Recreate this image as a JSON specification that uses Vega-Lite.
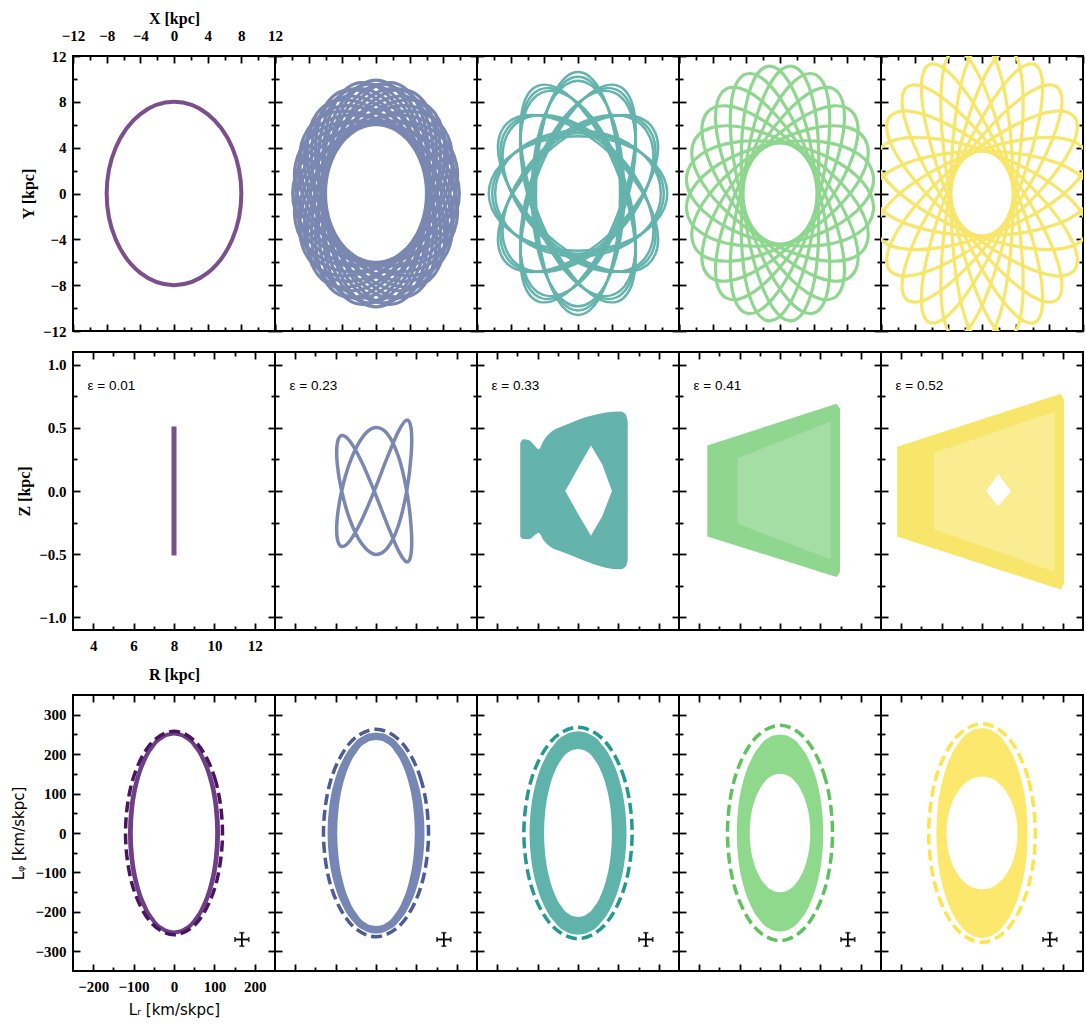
{
"$schema": "https://vega.github.io/schema/vega-lite/v6.json",
"background": "white",
"padding": {"left": 10, "top": 9, "right": 2, "bottom": 4},
"spacing": 10,
"datasets": {
"ax": [{"v": 0}],
"err": [{"x": 168, "y": -270, "xl": 151, "xh": 185, "yl": -287, "yh": -253}],
"eps": [{"p":1,"t":"ε = 0.01"},{"p":2,"t":"ε = 0.23"},{"p":3,"t":"ε = 0.33"},{"p":4,"t":"ε = 0.41"},{"p":5,"t":"ε = 0.52"}],
"xy": [
{"p":1,"k":1,"x":8,"y":0},{"p":1,"k":1,"x":6.93,"y":4},{"p":1,"k":1,"x":4,"y":6.93},{"p":1,"k":1,"x":0,"y":8},{"p":1,"k":1,"x":-4,"y":6.93},{"p":1,"k":1,"x":-6.93,"y":4},{"p":1,"k":1,"x":-8,"y":0},{"p":1,"k":1,"x":-6.93,"y":-4},{"p":1,"k":1,"x":-4,"y":-6.93},{"p":1,"k":1,"x":0,"y":-8},{"p":1,"k":1,"x":4,"y":-6.93},{"p":1,"k":1,"x":6.93,"y":-4},

{"p":2,"k":1,"x":9.9,"y":0},{"p":2,"k":1,"x":8.57,"y":3},{"p":2,"k":1,"x":4.95,"y":5.2},{"p":2,"k":1,"x":0,"y":6},{"p":2,"k":1,"x":-4.95,"y":5.2},{"p":2,"k":1,"x":-8.57,"y":3},{"p":2,"k":1,"x":-9.9,"y":0},{"p":2,"k":1,"x":-8.57,"y":-3},{"p":2,"k":1,"x":-4.95,"y":-5.2},{"p":2,"k":1,"x":0,"y":-6},{"p":2,"k":1,"x":4.95,"y":-5.2},{"p":2,"k":1,"x":8.57,"y":-3},
{"p":2,"k":2,"x":9.56,"y":2.56},{"p":2,"k":2,"x":7.5,"y":5.12},{"p":2,"k":2,"x":3.43,"y":6.3},{"p":2,"k":2,"x":-1.55,"y":5.8},{"p":2,"k":2,"x":-6.13,"y":3.74},{"p":2,"k":2,"x":-9.06,"y":0.68},{"p":2,"k":2,"x":-9.56,"y":-2.56},{"p":2,"k":2,"x":-7.5,"y":-5.12},{"p":2,"k":2,"x":-3.43,"y":-6.3},{"p":2,"k":2,"x":1.55,"y":-5.8},{"p":2,"k":2,"x":6.13,"y":-3.74},{"p":2,"k":2,"x":9.06,"y":-0.68},
{"p":2,"k":3,"x":8.57,"y":4.95},{"p":2,"k":3,"x":5.92,"y":6.89},{"p":2,"k":3,"x":1.69,"y":6.98},{"p":2,"k":3,"x":-3,"y":5.2},{"p":2,"k":3,"x":-6.89,"y":2.02},{"p":2,"k":3,"x":-8.92,"y":-1.69},{"p":2,"k":3,"x":-8.57,"y":-4.95},{"p":2,"k":3,"x":-5.92,"y":-6.89},{"p":2,"k":3,"x":-1.69,"y":-6.98},{"p":2,"k":3,"x":3,"y":-5.2},{"p":2,"k":3,"x":6.89,"y":-2.02},{"p":2,"k":3,"x":8.92,"y":1.69},
{"p":2,"k":4,"x":7,"y":7},{"p":2,"k":4,"x":3.94,"y":8.18},{"p":2,"k":4,"x":-0.18,"y":7.18},{"p":2,"k":4,"x":-4.24,"y":4.24},{"p":2,"k":4,"x":-7.18,"y":0.18},{"p":2,"k":4,"x":-8.18,"y":-3.94},{"p":2,"k":4,"x":-7,"y":-7},{"p":2,"k":4,"x":-3.94,"y":-8.18},{"p":2,"k":4,"x":0.18,"y":-7.18},{"p":2,"k":4,"x":4.24,"y":-4.24},{"p":2,"k":4,"x":7.18,"y":-0.18},{"p":2,"k":4,"x":8.18,"y":3.94},
{"p":2,"k":5,"x":4.95,"y":8.57},{"p":2,"k":5,"x":6.89,"y":5.92},{"p":2,"k":5,"x":6.98,"y":1.69},{"p":2,"k":5,"x":5.2,"y":-3},{"p":2,"k":5,"x":2.02,"y":-6.89},{"p":2,"k":5,"x":-1.69,"y":-8.92},{"p":2,"k":5,"x":-4.95,"y":-8.57},{"p":2,"k":5,"x":-6.89,"y":-5.92},{"p":2,"k":5,"x":-6.98,"y":-1.69},{"p":2,"k":5,"x":-5.2,"y":3},{"p":2,"k":5,"x":-2.02,"y":6.89},{"p":2,"k":5,"x":1.69,"y":8.92},
{"p":2,"k":6,"x":2.56,"y":9.56},{"p":2,"k":6,"x":5.12,"y":7.5},{"p":2,"k":6,"x":6.3,"y":3.43},{"p":2,"k":6,"x":5.8,"y":-1.55},{"p":2,"k":6,"x":3.74,"y":-6.13},{"p":2,"k":6,"x":0.68,"y":-9.06},{"p":2,"k":6,"x":-2.56,"y":-9.56},{"p":2,"k":6,"x":-5.12,"y":-7.5},{"p":2,"k":6,"x":-6.3,"y":-3.43},{"p":2,"k":6,"x":-5.8,"y":1.55},{"p":2,"k":6,"x":-3.74,"y":6.13},{"p":2,"k":6,"x":-0.68,"y":9.06},
{"p":2,"k":7,"x":0,"y":9.9},{"p":2,"k":7,"x":3,"y":8.57},{"p":2,"k":7,"x":5.2,"y":4.95},{"p":2,"k":7,"x":6,"y":0},{"p":2,"k":7,"x":5.2,"y":-4.95},{"p":2,"k":7,"x":3,"y":-8.57},{"p":2,"k":7,"x":0,"y":-9.9},{"p":2,"k":7,"x":-3,"y":-8.57},{"p":2,"k":7,"x":-5.2,"y":-4.95},{"p":2,"k":7,"x":-6,"y":0},{"p":2,"k":7,"x":-5.2,"y":4.95},{"p":2,"k":7,"x":-3,"y":8.57},
{"p":2,"k":8,"x":2.56,"y":-9.56},{"p":2,"k":8,"x":5.12,"y":-7.5},{"p":2,"k":8,"x":6.3,"y":-3.43},{"p":2,"k":8,"x":5.8,"y":1.55},{"p":2,"k":8,"x":3.74,"y":6.13},{"p":2,"k":8,"x":0.68,"y":9.06},{"p":2,"k":8,"x":-2.56,"y":9.56},{"p":2,"k":8,"x":-5.12,"y":7.5},{"p":2,"k":8,"x":-6.3,"y":3.43},{"p":2,"k":8,"x":-5.8,"y":-1.55},{"p":2,"k":8,"x":-3.74,"y":-6.13},{"p":2,"k":8,"x":-0.68,"y":-9.06},
{"p":2,"k":9,"x":4.95,"y":-8.57},{"p":2,"k":9,"x":6.89,"y":-5.92},{"p":2,"k":9,"x":6.98,"y":-1.69},{"p":2,"k":9,"x":5.2,"y":3},{"p":2,"k":9,"x":2.02,"y":6.89},{"p":2,"k":9,"x":-1.69,"y":8.92},{"p":2,"k":9,"x":-4.95,"y":8.57},{"p":2,"k":9,"x":-6.89,"y":5.92},{"p":2,"k":9,"x":-6.98,"y":1.69},{"p":2,"k":9,"x":-5.2,"y":-3},{"p":2,"k":9,"x":-2.02,"y":-6.89},{"p":2,"k":9,"x":1.69,"y":-8.92},
{"p":2,"k":10,"x":7,"y":-7},{"p":2,"k":10,"x":3.94,"y":-8.18},{"p":2,"k":10,"x":-0.18,"y":-7.18},{"p":2,"k":10,"x":-4.24,"y":-4.24},{"p":2,"k":10,"x":-7.18,"y":-0.18},{"p":2,"k":10,"x":-8.18,"y":3.94},{"p":2,"k":10,"x":-7,"y":7},{"p":2,"k":10,"x":-3.94,"y":8.18},{"p":2,"k":10,"x":0.18,"y":7.18},{"p":2,"k":10,"x":4.24,"y":4.24},{"p":2,"k":10,"x":7.18,"y":0.18},{"p":2,"k":10,"x":8.18,"y":-3.94},
{"p":2,"k":11,"x":8.57,"y":-4.95},{"p":2,"k":11,"x":5.92,"y":-6.89},{"p":2,"k":11,"x":1.69,"y":-6.98},{"p":2,"k":11,"x":-3,"y":-5.2},{"p":2,"k":11,"x":-6.89,"y":-2.02},{"p":2,"k":11,"x":-8.92,"y":1.69},{"p":2,"k":11,"x":-8.57,"y":4.95},{"p":2,"k":11,"x":-5.92,"y":6.89},{"p":2,"k":11,"x":-1.69,"y":6.98},{"p":2,"k":11,"x":3,"y":5.2},{"p":2,"k":11,"x":6.89,"y":2.02},{"p":2,"k":11,"x":8.92,"y":-1.69},
{"p":2,"k":12,"x":9.56,"y":-2.56},{"p":2,"k":12,"x":7.5,"y":-5.12},{"p":2,"k":12,"x":3.43,"y":-6.3},{"p":2,"k":12,"x":-1.55,"y":-5.8},{"p":2,"k":12,"x":-6.13,"y":-3.74},{"p":2,"k":12,"x":-9.06,"y":-0.68},{"p":2,"k":12,"x":-9.56,"y":2.56},{"p":2,"k":12,"x":-7.5,"y":5.12},{"p":2,"k":12,"x":-3.43,"y":6.3},{"p":2,"k":12,"x":1.55,"y":5.8},{"p":2,"k":12,"x":6.13,"y":3.74},{"p":2,"k":12,"x":9.06,"y":0.68},
{"p":2,"k":13,"x":9.51,"y":1.26},{"p":2,"k":13,"x":7.83,"y":4.19},{"p":2,"k":13,"x":4.05,"y":5.99},{"p":2,"k":13,"x":-0.82,"y":6.19},{"p":2,"k":13,"x":-5.47,"y":4.73},{"p":2,"k":13,"x":-8.65,"y":2.01},{"p":2,"k":13,"x":-9.51,"y":-1.26},{"p":2,"k":13,"x":-7.83,"y":-4.19},{"p":2,"k":13,"x":-4.05,"y":-5.99},{"p":2,"k":13,"x":0.82,"y":-6.19},{"p":2,"k":13,"x":5.47,"y":-4.73},{"p":2,"k":13,"x":8.65,"y":-2.01},
{"p":2,"k":14,"x":8.87,"y":3.68},{"p":2,"k":14,"x":6.48,"y":6.07},{"p":2,"k":14,"x":2.37,"y":6.84},{"p":2,"k":14,"x":-2.39,"y":5.78},{"p":2,"k":14,"x":-6.51,"y":3.16},{"p":2,"k":14,"x":-8.88,"y":-0.29},{"p":2,"k":14,"x":-8.87,"y":-3.68},{"p":2,"k":14,"x":-6.48,"y":-6.07},{"p":2,"k":14,"x":-2.37,"y":-6.84},{"p":2,"k":14,"x":2.39,"y":-5.78},{"p":2,"k":14,"x":6.51,"y":-3.16},{"p":2,"k":14,"x":8.88,"y":0.29},
{"p":2,"k":15,"x":7.61,"y":5.85},{"p":2,"k":15,"x":4.69,"y":7.54},{"p":2,"k":15,"x":0.52,"y":7.21},{"p":2,"k":15,"x":-3.81,"y":4.96},{"p":2,"k":15,"x":-7.1,"y":1.37},{"p":2,"k":15,"x":-8.49,"y":-2.58},{"p":2,"k":15,"x":-7.61,"y":-5.85},{"p":2,"k":15,"x":-4.69,"y":-7.54},{"p":2,"k":15,"x":-0.52,"y":-7.21},{"p":2,"k":15,"x":3.81,"y":-4.96},{"p":2,"k":15,"x":7.1,"y":-1.37},{"p":2,"k":15,"x":8.49,"y":2.58},
{"p":2,"k":16,"x":5.85,"y":7.61},{"p":2,"k":16,"x":7.54,"y":4.69},{"p":2,"k":16,"x":7.21,"y":0.52},{"p":2,"k":16,"x":4.96,"y":-3.81},{"p":2,"k":16,"x":1.37,"y":-7.1},{"p":2,"k":16,"x":-2.58,"y":-8.49},{"p":2,"k":16,"x":-5.85,"y":-7.61},{"p":2,"k":16,"x":-7.54,"y":-4.69},{"p":2,"k":16,"x":-7.21,"y":-0.52},{"p":2,"k":16,"x":-4.96,"y":3.81},{"p":2,"k":16,"x":-1.37,"y":7.1},{"p":2,"k":16,"x":2.58,"y":8.49},
{"p":2,"k":17,"x":3.68,"y":8.87},{"p":2,"k":17,"x":6.07,"y":6.48},{"p":2,"k":17,"x":6.84,"y":2.37},{"p":2,"k":17,"x":5.78,"y":-2.39},{"p":2,"k":17,"x":3.16,"y":-6.51},{"p":2,"k":17,"x":-0.29,"y":-8.88},{"p":2,"k":17,"x":-3.68,"y":-8.87},{"p":2,"k":17,"x":-6.07,"y":-6.48},{"p":2,"k":17,"x":-6.84,"y":-2.37},{"p":2,"k":17,"x":-5.78,"y":2.39},{"p":2,"k":17,"x":-3.16,"y":6.51},{"p":2,"k":17,"x":0.29,"y":8.88},
{"p":2,"k":18,"x":1.26,"y":9.51},{"p":2,"k":18,"x":4.19,"y":7.83},{"p":2,"k":18,"x":5.99,"y":4.05},{"p":2,"k":18,"x":6.19,"y":-0.82},{"p":2,"k":18,"x":4.73,"y":-5.47},{"p":2,"k":18,"x":2.01,"y":-8.65},{"p":2,"k":18,"x":-1.26,"y":-9.51},{"p":2,"k":18,"x":-4.19,"y":-7.83},{"p":2,"k":18,"x":-5.99,"y":-4.05},{"p":2,"k":18,"x":-6.19,"y":0.82},{"p":2,"k":18,"x":-4.73,"y":5.47},{"p":2,"k":18,"x":-2.01,"y":8.65},
{"p":2,"k":19,"x":1.26,"y":-9.51},{"p":2,"k":19,"x":4.19,"y":-7.83},{"p":2,"k":19,"x":5.99,"y":-4.05},{"p":2,"k":19,"x":6.19,"y":0.82},{"p":2,"k":19,"x":4.73,"y":5.47},{"p":2,"k":19,"x":2.01,"y":8.65},{"p":2,"k":19,"x":-1.26,"y":9.51},{"p":2,"k":19,"x":-4.19,"y":7.83},{"p":2,"k":19,"x":-5.99,"y":4.05},{"p":2,"k":19,"x":-6.19,"y":-0.82},{"p":2,"k":19,"x":-4.73,"y":-5.47},{"p":2,"k":19,"x":-2.01,"y":-8.65},
{"p":2,"k":20,"x":3.68,"y":-8.87},{"p":2,"k":20,"x":6.07,"y":-6.48},{"p":2,"k":20,"x":6.84,"y":-2.37},{"p":2,"k":20,"x":5.78,"y":2.39},{"p":2,"k":20,"x":3.16,"y":6.51},{"p":2,"k":20,"x":-0.29,"y":8.88},{"p":2,"k":20,"x":-3.68,"y":8.87},{"p":2,"k":20,"x":-6.07,"y":6.48},{"p":2,"k":20,"x":-6.84,"y":2.37},{"p":2,"k":20,"x":-5.78,"y":-2.39},{"p":2,"k":20,"x":-3.16,"y":-6.51},{"p":2,"k":20,"x":0.29,"y":-8.88},
{"p":2,"k":21,"x":5.85,"y":-7.61},{"p":2,"k":21,"x":7.54,"y":-4.69},{"p":2,"k":21,"x":7.21,"y":-0.52},{"p":2,"k":21,"x":4.96,"y":3.81},{"p":2,"k":21,"x":1.37,"y":7.1},{"p":2,"k":21,"x":-2.58,"y":8.49},{"p":2,"k":21,"x":-5.85,"y":7.61},{"p":2,"k":21,"x":-7.54,"y":4.69},{"p":2,"k":21,"x":-7.21,"y":0.52},{"p":2,"k":21,"x":-4.96,"y":-3.81},{"p":2,"k":21,"x":-1.37,"y":-7.1},{"p":2,"k":21,"x":2.58,"y":-8.49},
{"p":2,"k":22,"x":7.61,"y":-5.85},{"p":2,"k":22,"x":4.69,"y":-7.54},{"p":2,"k":22,"x":0.52,"y":-7.21},{"p":2,"k":22,"x":-3.81,"y":-4.96},{"p":2,"k":22,"x":-7.1,"y":-1.37},{"p":2,"k":22,"x":-8.49,"y":2.58},{"p":2,"k":22,"x":-7.61,"y":5.85},{"p":2,"k":22,"x":-4.69,"y":7.54},{"p":2,"k":22,"x":-0.52,"y":7.21},{"p":2,"k":22,"x":3.81,"y":4.96},{"p":2,"k":22,"x":7.1,"y":1.37},{"p":2,"k":22,"x":8.49,"y":-2.58},
{"p":2,"k":23,"x":8.87,"y":-3.68},{"p":2,"k":23,"x":6.48,"y":-6.07},{"p":2,"k":23,"x":2.37,"y":-6.84},{"p":2,"k":23,"x":-2.39,"y":-5.78},{"p":2,"k":23,"x":-6.51,"y":-3.16},{"p":2,"k":23,"x":-8.88,"y":0.29},{"p":2,"k":23,"x":-8.87,"y":3.68},{"p":2,"k":23,"x":-6.48,"y":6.07},{"p":2,"k":23,"x":-2.37,"y":6.84},{"p":2,"k":23,"x":2.39,"y":5.78},{"p":2,"k":23,"x":6.51,"y":3.16},{"p":2,"k":23,"x":8.88,"y":-0.29},
{"p":2,"k":24,"x":9.51,"y":-1.26},{"p":2,"k":24,"x":7.83,"y":-4.19},{"p":2,"k":24,"x":4.05,"y":-5.99},{"p":2,"k":24,"x":-0.82,"y":-6.19},{"p":2,"k":24,"x":-5.47,"y":-4.73},{"p":2,"k":24,"x":-8.65,"y":-2.01},{"p":2,"k":24,"x":-9.51,"y":1.26},{"p":2,"k":24,"x":-7.83,"y":4.19},{"p":2,"k":24,"x":-4.05,"y":5.99},{"p":2,"k":24,"x":0.82,"y":6.19},{"p":2,"k":24,"x":5.47,"y":4.73},{"p":2,"k":24,"x":8.65,"y":2.01},

{"p":3,"k":1,"x":10.6,"y":0},{"p":3,"k":1,"x":9.18,"y":2.5},{"p":3,"k":1,"x":5.3,"y":4.33},{"p":3,"k":1,"x":0,"y":5},{"p":3,"k":1,"x":-5.3,"y":4.33},{"p":3,"k":1,"x":-9.18,"y":2.5},{"p":3,"k":1,"x":-10.6,"y":0},{"p":3,"k":1,"x":-9.18,"y":-2.5},{"p":3,"k":1,"x":-5.3,"y":-4.33},{"p":3,"k":1,"x":0,"y":-5},{"p":3,"k":1,"x":5.3,"y":-4.33},{"p":3,"k":1,"x":9.18,"y":-2.5},
{"p":3,"k":2,"x":9.18,"y":5.3},{"p":3,"k":2,"x":6.7,"y":6.76},{"p":3,"k":2,"x":2.42,"y":6.4},{"p":3,"k":2,"x":-2.5,"y":4.33},{"p":3,"k":2,"x":-6.76,"y":1.1},{"p":3,"k":2,"x":-9.2,"y":-2.43},{"p":3,"k":2,"x":-9.18,"y":-5.3},{"p":3,"k":2,"x":-6.7,"y":-6.76},{"p":3,"k":2,"x":-2.42,"y":-6.4},{"p":3,"k":2,"x":2.5,"y":-4.33},{"p":3,"k":2,"x":6.76,"y":-1.1},{"p":3,"k":2,"x":9.2,"y":2.43},
{"p":3,"k":3,"x":5.3,"y":9.18},{"p":3,"k":3,"x":6.76,"y":6.7},{"p":3,"k":3,"x":6.4,"y":2.42},{"p":3,"k":3,"x":4.33,"y":-2.5},{"p":3,"k":3,"x":1.1,"y":-6.76},{"p":3,"k":3,"x":-2.43,"y":-9.2},{"p":3,"k":3,"x":-5.3,"y":-9.18},{"p":3,"k":3,"x":-6.76,"y":-6.7},{"p":3,"k":3,"x":-6.4,"y":-2.42},{"p":3,"k":3,"x":-4.33,"y":2.5},{"p":3,"k":3,"x":-1.1,"y":6.76},{"p":3,"k":3,"x":2.43,"y":9.2},
{"p":3,"k":4,"x":0,"y":10.6},{"p":3,"k":4,"x":2.5,"y":9.18},{"p":3,"k":4,"x":4.33,"y":5.3},{"p":3,"k":4,"x":5,"y":0},{"p":3,"k":4,"x":4.33,"y":-5.3},{"p":3,"k":4,"x":2.5,"y":-9.18},{"p":3,"k":4,"x":0,"y":-10.6},{"p":3,"k":4,"x":-2.5,"y":-9.18},{"p":3,"k":4,"x":-4.33,"y":-5.3},{"p":3,"k":4,"x":-5,"y":0},{"p":3,"k":4,"x":-4.33,"y":5.3},{"p":3,"k":4,"x":-2.5,"y":9.18},
{"p":3,"k":5,"x":5.3,"y":-9.18},{"p":3,"k":5,"x":6.76,"y":-6.7},{"p":3,"k":5,"x":6.4,"y":-2.42},{"p":3,"k":5,"x":4.33,"y":2.5},{"p":3,"k":5,"x":1.1,"y":6.76},{"p":3,"k":5,"x":-2.43,"y":9.2},{"p":3,"k":5,"x":-5.3,"y":9.18},{"p":3,"k":5,"x":-6.76,"y":6.7},{"p":3,"k":5,"x":-6.4,"y":2.42},{"p":3,"k":5,"x":-4.33,"y":-2.5},{"p":3,"k":5,"x":-1.1,"y":-6.76},{"p":3,"k":5,"x":2.43,"y":-9.2},
{"p":3,"k":6,"x":9.18,"y":-5.3},{"p":3,"k":6,"x":6.7,"y":-6.76},{"p":3,"k":6,"x":2.42,"y":-6.4},{"p":3,"k":6,"x":-2.5,"y":-4.33},{"p":3,"k":6,"x":-6.76,"y":-1.1},{"p":3,"k":6,"x":-9.2,"y":2.43},{"p":3,"k":6,"x":-9.18,"y":5.3},{"p":3,"k":6,"x":-6.7,"y":6.76},{"p":3,"k":6,"x":-2.42,"y":6.4},{"p":3,"k":6,"x":2.5,"y":4.33},{"p":3,"k":6,"x":6.76,"y":1.1},{"p":3,"k":6,"x":9.2,"y":-2.43},
{"p":3,"k":7,"x":10.2,"y":0},{"p":3,"k":7,"x":8.83,"y":2.63},{"p":3,"k":7,"x":5.1,"y":4.55},{"p":3,"k":7,"x":0,"y":5.25},{"p":3,"k":7,"x":-5.1,"y":4.55},{"p":3,"k":7,"x":-8.83,"y":2.63},{"p":3,"k":7,"x":-10.2,"y":0},{"p":3,"k":7,"x":-8.83,"y":-2.63},{"p":3,"k":7,"x":-5.1,"y":-4.55},{"p":3,"k":7,"x":0,"y":-5.25},{"p":3,"k":7,"x":5.1,"y":-4.55},{"p":3,"k":7,"x":8.83,"y":-2.63},
{"p":3,"k":8,"x":8.83,"y":5.1},{"p":3,"k":8,"x":6.33,"y":6.69},{"p":3,"k":8,"x":2.14,"y":6.49},{"p":3,"k":8,"x":-2.63,"y":4.55},{"p":3,"k":8,"x":-6.69,"y":1.39},{"p":3,"k":8,"x":-8.96,"y":-2.14},{"p":3,"k":8,"x":-8.83,"y":-5.1},{"p":3,"k":8,"x":-6.33,"y":-6.69},{"p":3,"k":8,"x":-2.14,"y":-6.49},{"p":3,"k":8,"x":2.63,"y":-4.55},{"p":3,"k":8,"x":6.69,"y":-1.39},{"p":3,"k":8,"x":8.96,"y":2.14},
{"p":3,"k":9,"x":5.1,"y":8.83},{"p":3,"k":9,"x":6.69,"y":6.33},{"p":3,"k":9,"x":6.49,"y":2.14},{"p":3,"k":9,"x":4.55,"y":-2.63},{"p":3,"k":9,"x":1.39,"y":-6.69},{"p":3,"k":9,"x":-2.14,"y":-8.96},{"p":3,"k":9,"x":-5.1,"y":-8.83},{"p":3,"k":9,"x":-6.69,"y":-6.33},{"p":3,"k":9,"x":-6.49,"y":-2.14},{"p":3,"k":9,"x":-4.55,"y":2.63},{"p":3,"k":9,"x":-1.39,"y":6.69},{"p":3,"k":9,"x":2.14,"y":8.96},
{"p":3,"k":10,"x":0,"y":10.2},{"p":3,"k":10,"x":2.63,"y":8.83},{"p":3,"k":10,"x":4.55,"y":5.1},{"p":3,"k":10,"x":5.25,"y":0},{"p":3,"k":10,"x":4.55,"y":-5.1},{"p":3,"k":10,"x":2.63,"y":-8.83},{"p":3,"k":10,"x":0,"y":-10.2},{"p":3,"k":10,"x":-2.63,"y":-8.83},{"p":3,"k":10,"x":-4.55,"y":-5.1},{"p":3,"k":10,"x":-5.25,"y":0},{"p":3,"k":10,"x":-4.55,"y":5.1},{"p":3,"k":10,"x":-2.63,"y":8.83},
{"p":3,"k":11,"x":5.1,"y":-8.83},{"p":3,"k":11,"x":6.69,"y":-6.33},{"p":3,"k":11,"x":6.49,"y":-2.14},{"p":3,"k":11,"x":4.55,"y":2.63},{"p":3,"k":11,"x":1.39,"y":6.69},{"p":3,"k":11,"x":-2.14,"y":8.96},{"p":3,"k":11,"x":-5.1,"y":8.83},{"p":3,"k":11,"x":-6.69,"y":6.33},{"p":3,"k":11,"x":-6.49,"y":2.14},{"p":3,"k":11,"x":-4.55,"y":-2.63},{"p":3,"k":11,"x":-1.39,"y":-6.69},{"p":3,"k":11,"x":2.14,"y":-8.96},
{"p":3,"k":12,"x":8.83,"y":-5.1},{"p":3,"k":12,"x":6.33,"y":-6.69},{"p":3,"k":12,"x":2.14,"y":-6.49},{"p":3,"k":12,"x":-2.63,"y":-4.55},{"p":3,"k":12,"x":-6.69,"y":-1.39},{"p":3,"k":12,"x":-8.96,"y":2.14},{"p":3,"k":12,"x":-8.83,"y":5.1},{"p":3,"k":12,"x":-6.33,"y":6.69},{"p":3,"k":12,"x":-2.14,"y":6.49},{"p":3,"k":12,"x":2.63,"y":4.55},{"p":3,"k":12,"x":6.69,"y":1.39},{"p":3,"k":12,"x":8.96,"y":-2.14},
{"p":3,"k":13,"x":9.85,"y":0},{"p":3,"k":13,"x":8.53,"y":2.75},{"p":3,"k":13,"x":4.93,"y":4.76},{"p":3,"k":13,"x":0,"y":5.5},{"p":3,"k":13,"x":-4.93,"y":4.76},{"p":3,"k":13,"x":-8.53,"y":2.75},{"p":3,"k":13,"x":-9.85,"y":0},{"p":3,"k":13,"x":-8.53,"y":-2.75},{"p":3,"k":13,"x":-4.93,"y":-4.76},{"p":3,"k":13,"x":0,"y":-5.5},{"p":3,"k":13,"x":4.93,"y":-4.76},{"p":3,"k":13,"x":8.53,"y":-2.75},
{"p":3,"k":14,"x":8.53,"y":4.93},{"p":3,"k":14,"x":6.01,"y":6.65},{"p":3,"k":14,"x":1.89,"y":6.59},{"p":3,"k":14,"x":-2.75,"y":4.76},{"p":3,"k":14,"x":-6.65,"y":1.66},{"p":3,"k":14,"x":-8.76,"y":-1.89},{"p":3,"k":14,"x":-8.53,"y":-4.93},{"p":3,"k":14,"x":-6.01,"y":-6.65},{"p":3,"k":14,"x":-1.89,"y":-6.59},{"p":3,"k":14,"x":2.75,"y":-4.76},{"p":3,"k":14,"x":6.65,"y":-1.66},{"p":3,"k":14,"x":8.76,"y":1.89},
{"p":3,"k":15,"x":4.93,"y":8.53},{"p":3,"k":15,"x":6.65,"y":6.01},{"p":3,"k":15,"x":6.59,"y":1.89},{"p":3,"k":15,"x":4.76,"y":-2.75},{"p":3,"k":15,"x":1.66,"y":-6.65},{"p":3,"k":15,"x":-1.89,"y":-8.76},{"p":3,"k":15,"x":-4.93,"y":-8.53},{"p":3,"k":15,"x":-6.65,"y":-6.01},{"p":3,"k":15,"x":-6.59,"y":-1.89},{"p":3,"k":15,"x":-4.76,"y":2.75},{"p":3,"k":15,"x":-1.66,"y":6.65},{"p":3,"k":15,"x":1.89,"y":8.76},
{"p":3,"k":16,"x":0,"y":9.85},{"p":3,"k":16,"x":2.75,"y":8.53},{"p":3,"k":16,"x":4.76,"y":4.93},{"p":3,"k":16,"x":5.5,"y":0},{"p":3,"k":16,"x":4.76,"y":-4.93},{"p":3,"k":16,"x":2.75,"y":-8.53},{"p":3,"k":16,"x":0,"y":-9.85},{"p":3,"k":16,"x":-2.75,"y":-8.53},{"p":3,"k":16,"x":-4.76,"y":-4.93},{"p":3,"k":16,"x":-5.5,"y":0},{"p":3,"k":16,"x":-4.76,"y":4.93},{"p":3,"k":16,"x":-2.75,"y":8.53},
{"p":3,"k":17,"x":4.93,"y":-8.53},{"p":3,"k":17,"x":6.65,"y":-6.01},{"p":3,"k":17,"x":6.59,"y":-1.89},{"p":3,"k":17,"x":4.76,"y":2.75},{"p":3,"k":17,"x":1.66,"y":6.65},{"p":3,"k":17,"x":-1.89,"y":8.76},{"p":3,"k":17,"x":-4.93,"y":8.53},{"p":3,"k":17,"x":-6.65,"y":6.01},{"p":3,"k":17,"x":-6.59,"y":1.89},{"p":3,"k":17,"x":-4.76,"y":-2.75},{"p":3,"k":17,"x":-1.66,"y":-6.65},{"p":3,"k":17,"x":1.89,"y":-8.76},
{"p":3,"k":18,"x":8.53,"y":-4.93},{"p":3,"k":18,"x":6.01,"y":-6.65},{"p":3,"k":18,"x":1.89,"y":-6.59},{"p":3,"k":18,"x":-2.75,"y":-4.76},{"p":3,"k":18,"x":-6.65,"y":-1.66},{"p":3,"k":18,"x":-8.76,"y":1.89},{"p":3,"k":18,"x":-8.53,"y":4.93},{"p":3,"k":18,"x":-6.01,"y":6.65},{"p":3,"k":18,"x":-1.89,"y":6.59},{"p":3,"k":18,"x":2.75,"y":4.76},{"p":3,"k":18,"x":6.65,"y":1.66},{"p":3,"k":18,"x":8.76,"y":-1.89},

{"p":4,"k":1,"x":11.1,"y":1.47},{"p":4,"k":1,"x":9.32,"y":3.45},{"p":4,"k":1,"x":5.05,"y":4.51},{"p":4,"k":1,"x":-0.58,"y":4.36},{"p":4,"k":1,"x":-6.05,"y":3.05},{"p":4,"k":1,"x":-9.9,"y":0.91},{"p":4,"k":1,"x":-11.1,"y":-1.47},{"p":4,"k":1,"x":-9.32,"y":-3.45},{"p":4,"k":1,"x":-5.05,"y":-4.51},{"p":4,"k":1,"x":0.58,"y":-4.36},{"p":4,"k":1,"x":6.05,"y":-3.05},{"p":4,"k":1,"x":9.9,"y":-0.91},
{"p":4,"k":2,"x":10.35,"y":4.29},{"p":4,"k":2,"x":8.12,"y":5.75},{"p":4,"k":2,"x":3.71,"y":5.66},{"p":4,"k":2,"x":-1.69,"y":4.07},{"p":4,"k":2,"x":-6.63,"y":1.38},{"p":4,"k":2,"x":-9.8,"y":-1.69},{"p":4,"k":2,"x":-10.35,"y":-4.29},{"p":4,"k":2,"x":-8.12,"y":-5.75},{"p":4,"k":2,"x":-3.71,"y":-5.66},{"p":4,"k":2,"x":1.69,"y":-4.07},{"p":4,"k":2,"x":6.63,"y":-1.38},{"p":4,"k":2,"x":9.8,"y":1.69},
{"p":4,"k":3,"x":8.88,"y":6.82},{"p":4,"k":3,"x":6.35,"y":7.65},{"p":4,"k":3,"x":2.12,"y":6.43},{"p":4,"k":3,"x":-2.68,"y":3.49},{"p":4,"k":3,"x":-6.76,"y":-0.39},{"p":4,"k":3,"x":-9.03,"y":-4.17},{"p":4,"k":3,"x":-8.88,"y":-6.82},{"p":4,"k":3,"x":-6.35,"y":-7.65},{"p":4,"k":3,"x":-2.12,"y":-6.43},{"p":4,"k":3,"x":2.68,"y":-3.49},{"p":4,"k":3,"x":6.76,"y":0.39},{"p":4,"k":3,"x":9.03,"y":4.17},
{"p":4,"k":4,"x":6.82,"y":8.88},{"p":4,"k":4,"x":7.65,"y":6.35},{"p":4,"k":4,"x":6.43,"y":2.12},{"p":4,"k":4,"x":3.49,"y":-2.68},{"p":4,"k":4,"x":-0.39,"y":-6.76},{"p":4,"k":4,"x":-4.17,"y":-9.03},{"p":4,"k":4,"x":-6.82,"y":-8.88},{"p":4,"k":4,"x":-7.65,"y":-6.35},{"p":4,"k":4,"x":-6.43,"y":-2.12},{"p":4,"k":4,"x":-3.49,"y":2.68},{"p":4,"k":4,"x":0.39,"y":6.76},{"p":4,"k":4,"x":4.17,"y":9.03},
{"p":4,"k":5,"x":4.29,"y":10.35},{"p":4,"k":5,"x":5.75,"y":8.12},{"p":4,"k":5,"x":5.66,"y":3.71},{"p":4,"k":5,"x":4.07,"y":-1.69},{"p":4,"k":5,"x":1.38,"y":-6.63},{"p":4,"k":5,"x":-1.69,"y":-9.8},{"p":4,"k":5,"x":-4.29,"y":-10.35},{"p":4,"k":5,"x":-5.75,"y":-8.12},{"p":4,"k":5,"x":-5.66,"y":-3.71},{"p":4,"k":5,"x":-4.07,"y":1.69},{"p":4,"k":5,"x":-1.38,"y":6.63},{"p":4,"k":5,"x":1.69,"y":9.8},
{"p":4,"k":6,"x":1.47,"y":11.1},{"p":4,"k":6,"x":3.45,"y":9.32},{"p":4,"k":6,"x":4.51,"y":5.05},{"p":4,"k":6,"x":4.36,"y":-0.58},{"p":4,"k":6,"x":3.05,"y":-6.05},{"p":4,"k":6,"x":0.91,"y":-9.9},{"p":4,"k":6,"x":-1.47,"y":-11.1},{"p":4,"k":6,"x":-3.45,"y":-9.32},{"p":4,"k":6,"x":-4.51,"y":-5.05},{"p":4,"k":6,"x":-4.36,"y":0.58},{"p":4,"k":6,"x":-3.05,"y":6.05},{"p":4,"k":6,"x":-0.91,"y":9.9},
{"p":4,"k":7,"x":1.47,"y":-11.1},{"p":4,"k":7,"x":3.45,"y":-9.32},{"p":4,"k":7,"x":4.51,"y":-5.05},{"p":4,"k":7,"x":4.36,"y":0.58},{"p":4,"k":7,"x":3.05,"y":6.05},{"p":4,"k":7,"x":0.91,"y":9.9},{"p":4,"k":7,"x":-1.47,"y":11.1},{"p":4,"k":7,"x":-3.45,"y":9.32},{"p":4,"k":7,"x":-4.51,"y":5.05},{"p":4,"k":7,"x":-4.36,"y":-0.58},{"p":4,"k":7,"x":-3.05,"y":-6.05},{"p":4,"k":7,"x":-0.91,"y":-9.9},
{"p":4,"k":8,"x":4.29,"y":-10.35},{"p":4,"k":8,"x":5.75,"y":-8.12},{"p":4,"k":8,"x":5.66,"y":-3.71},{"p":4,"k":8,"x":4.07,"y":1.69},{"p":4,"k":8,"x":1.38,"y":6.63},{"p":4,"k":8,"x":-1.69,"y":9.8},{"p":4,"k":8,"x":-4.29,"y":10.35},{"p":4,"k":8,"x":-5.75,"y":8.12},{"p":4,"k":8,"x":-5.66,"y":3.71},{"p":4,"k":8,"x":-4.07,"y":-1.69},{"p":4,"k":8,"x":-1.38,"y":-6.63},{"p":4,"k":8,"x":1.69,"y":-9.8},
{"p":4,"k":9,"x":6.82,"y":-8.88},{"p":4,"k":9,"x":7.65,"y":-6.35},{"p":4,"k":9,"x":6.43,"y":-2.12},{"p":4,"k":9,"x":3.49,"y":2.68},{"p":4,"k":9,"x":-0.39,"y":6.76},{"p":4,"k":9,"x":-4.17,"y":9.03},{"p":4,"k":9,"x":-6.82,"y":8.88},{"p":4,"k":9,"x":-7.65,"y":6.35},{"p":4,"k":9,"x":-6.43,"y":2.12},{"p":4,"k":9,"x":-3.49,"y":-2.68},{"p":4,"k":9,"x":0.39,"y":-6.76},{"p":4,"k":9,"x":4.17,"y":-9.03},
{"p":4,"k":10,"x":8.88,"y":-6.82},{"p":4,"k":10,"x":6.35,"y":-7.65},{"p":4,"k":10,"x":2.12,"y":-6.43},{"p":4,"k":10,"x":-2.68,"y":-3.49},{"p":4,"k":10,"x":-6.76,"y":0.39},{"p":4,"k":10,"x":-9.03,"y":4.17},{"p":4,"k":10,"x":-8.88,"y":6.82},{"p":4,"k":10,"x":-6.35,"y":7.65},{"p":4,"k":10,"x":-2.12,"y":6.43},{"p":4,"k":10,"x":2.68,"y":3.49},{"p":4,"k":10,"x":6.76,"y":-0.39},{"p":4,"k":10,"x":9.03,"y":-4.17},
{"p":4,"k":11,"x":10.35,"y":-4.29},{"p":4,"k":11,"x":8.12,"y":-5.75},{"p":4,"k":11,"x":3.71,"y":-5.66},{"p":4,"k":11,"x":-1.69,"y":-4.07},{"p":4,"k":11,"x":-6.63,"y":-1.38},{"p":4,"k":11,"x":-9.8,"y":1.69},{"p":4,"k":11,"x":-10.35,"y":4.29},{"p":4,"k":11,"x":-8.12,"y":5.75},{"p":4,"k":11,"x":-3.71,"y":5.66},{"p":4,"k":11,"x":1.69,"y":4.07},{"p":4,"k":11,"x":6.63,"y":1.38},{"p":4,"k":11,"x":9.8,"y":-1.69},
{"p":4,"k":12,"x":11.1,"y":-1.47},{"p":4,"k":12,"x":9.32,"y":-3.45},{"p":4,"k":12,"x":5.05,"y":-4.51},{"p":4,"k":12,"x":-0.58,"y":-4.36},{"p":4,"k":12,"x":-6.05,"y":-3.05},{"p":4,"k":12,"x":-9.9,"y":-0.91},{"p":4,"k":12,"x":-11.1,"y":1.47},{"p":4,"k":12,"x":-9.32,"y":3.45},{"p":4,"k":12,"x":-5.05,"y":4.51},{"p":4,"k":12,"x":0.58,"y":4.36},{"p":4,"k":12,"x":6.05,"y":3.05},{"p":4,"k":12,"x":9.9,"y":0.91},

{"p":5,"k":1,"x":12.9,"y":0},{"p":5,"k":1,"x":11.17,"y":1.85},{"p":5,"k":1,"x":6.45,"y":3.2},{"p":5,"k":1,"x":0,"y":3.7},{"p":5,"k":1,"x":-6.45,"y":3.2},{"p":5,"k":1,"x":-11.17,"y":1.85},{"p":5,"k":1,"x":-12.9,"y":0},{"p":5,"k":1,"x":-11.17,"y":-1.85},{"p":5,"k":1,"x":-6.45,"y":-3.2},{"p":5,"k":1,"x":0,"y":-3.7},{"p":5,"k":1,"x":6.45,"y":-3.2},{"p":5,"k":1,"x":11.17,"y":-1.85},
{"p":5,"k":2,"x":12.46,"y":3.34},{"p":5,"k":2,"x":10.31,"y":4.68},{"p":5,"k":2,"x":5.4,"y":4.76},{"p":5,"k":2,"x":-0.96,"y":3.57},{"p":5,"k":2,"x":-7.06,"y":1.42},{"p":5,"k":2,"x":-11.27,"y":-1.1},{"p":5,"k":2,"x":-12.46,"y":-3.34},{"p":5,"k":2,"x":-10.31,"y":-4.68},{"p":5,"k":2,"x":-5.4,"y":-4.76},{"p":5,"k":2,"x":0.96,"y":-3.57},{"p":5,"k":2,"x":7.06,"y":-1.42},{"p":5,"k":2,"x":11.27,"y":1.1},
{"p":5,"k":3,"x":11.17,"y":6.45},{"p":5,"k":3,"x":8.74,"y":7.19},{"p":5,"k":3,"x":3.99,"y":6},{"p":5,"k":3,"x":-1.85,"y":3.2},{"p":5,"k":3,"x":-7.19,"y":-0.46},{"p":5,"k":3,"x":-10.6,"y":-3.99},{"p":5,"k":3,"x":-11.17,"y":-6.45},{"p":5,"k":3,"x":-8.74,"y":-7.19},{"p":5,"k":3,"x":-3.99,"y":-6},{"p":5,"k":3,"x":1.85,"y":-3.2},{"p":5,"k":3,"x":7.19,"y":0.46},{"p":5,"k":3,"x":10.6,"y":3.99},
{"p":5,"k":4,"x":9.12,"y":9.12},{"p":5,"k":4,"x":6.59,"y":9.21},{"p":5,"k":4,"x":2.3,"y":6.82},{"p":5,"k":4,"x":-2.62,"y":2.62},{"p":5,"k":4,"x":-6.82,"y":-2.3},{"p":5,"k":4,"x":-9.21,"y":-6.59},{"p":5,"k":4,"x":-9.12,"y":-9.12},{"p":5,"k":4,"x":-6.59,"y":-9.21},{"p":5,"k":4,"x":-2.3,"y":-6.82},{"p":5,"k":4,"x":2.62,"y":-2.62},{"p":5,"k":4,"x":6.82,"y":2.3},{"p":5,"k":4,"x":9.21,"y":6.59},
{"p":5,"k":5,"x":6.45,"y":11.17},{"p":5,"k":5,"x":7.19,"y":8.74},{"p":5,"k":5,"x":6,"y":3.99},{"p":5,"k":5,"x":3.2,"y":-1.85},{"p":5,"k":5,"x":-0.46,"y":-7.19},{"p":5,"k":5,"x":-3.99,"y":-10.6},{"p":5,"k":5,"x":-6.45,"y":-11.17},{"p":5,"k":5,"x":-7.19,"y":-8.74},{"p":5,"k":5,"x":-6,"y":-3.99},{"p":5,"k":5,"x":-3.2,"y":1.85},{"p":5,"k":5,"x":0.46,"y":7.19},{"p":5,"k":5,"x":3.99,"y":10.6},
{"p":5,"k":6,"x":3.34,"y":12.46},{"p":5,"k":6,"x":4.68,"y":10.31},{"p":5,"k":6,"x":4.76,"y":5.4},{"p":5,"k":6,"x":3.57,"y":-0.96},{"p":5,"k":6,"x":1.42,"y":-7.06},{"p":5,"k":6,"x":-1.1,"y":-11.27},{"p":5,"k":6,"x":-3.34,"y":-12.46},{"p":5,"k":6,"x":-4.68,"y":-10.31},{"p":5,"k":6,"x":-4.76,"y":-5.4},{"p":5,"k":6,"x":-3.57,"y":0.96},{"p":5,"k":6,"x":-1.42,"y":7.06},{"p":5,"k":6,"x":1.1,"y":11.27},
{"p":5,"k":7,"x":0,"y":12.9},{"p":5,"k":7,"x":1.85,"y":11.17},{"p":5,"k":7,"x":3.2,"y":6.45},{"p":5,"k":7,"x":3.7,"y":0},{"p":5,"k":7,"x":3.2,"y":-6.45},{"p":5,"k":7,"x":1.85,"y":-11.17},{"p":5,"k":7,"x":0,"y":-12.9},{"p":5,"k":7,"x":-1.85,"y":-11.17},{"p":5,"k":7,"x":-3.2,"y":-6.45},{"p":5,"k":7,"x":-3.7,"y":0},{"p":5,"k":7,"x":-3.2,"y":6.45},{"p":5,"k":7,"x":-1.85,"y":11.17},
{"p":5,"k":8,"x":3.34,"y":-12.46},{"p":5,"k":8,"x":4.68,"y":-10.31},{"p":5,"k":8,"x":4.76,"y":-5.4},{"p":5,"k":8,"x":3.57,"y":0.96},{"p":5,"k":8,"x":1.42,"y":7.06},{"p":5,"k":8,"x":-1.1,"y":11.27},{"p":5,"k":8,"x":-3.34,"y":12.46},{"p":5,"k":8,"x":-4.68,"y":10.31},{"p":5,"k":8,"x":-4.76,"y":5.4},{"p":5,"k":8,"x":-3.57,"y":-0.96},{"p":5,"k":8,"x":-1.42,"y":-7.06},{"p":5,"k":8,"x":1.1,"y":-11.27},
{"p":5,"k":9,"x":6.45,"y":-11.17},{"p":5,"k":9,"x":7.19,"y":-8.74},{"p":5,"k":9,"x":6,"y":-3.99},{"p":5,"k":9,"x":3.2,"y":1.85},{"p":5,"k":9,"x":-0.46,"y":7.19},{"p":5,"k":9,"x":-3.99,"y":10.6},{"p":5,"k":9,"x":-6.45,"y":11.17},{"p":5,"k":9,"x":-7.19,"y":8.74},{"p":5,"k":9,"x":-6,"y":3.99},{"p":5,"k":9,"x":-3.2,"y":-1.85},{"p":5,"k":9,"x":0.46,"y":-7.19},{"p":5,"k":9,"x":3.99,"y":-10.6},
{"p":5,"k":10,"x":9.12,"y":-9.12},{"p":5,"k":10,"x":6.59,"y":-9.21},{"p":5,"k":10,"x":2.3,"y":-6.82},{"p":5,"k":10,"x":-2.62,"y":-2.62},{"p":5,"k":10,"x":-6.82,"y":2.3},{"p":5,"k":10,"x":-9.21,"y":6.59},{"p":5,"k":10,"x":-9.12,"y":9.12},{"p":5,"k":10,"x":-6.59,"y":9.21},{"p":5,"k":10,"x":-2.3,"y":6.82},{"p":5,"k":10,"x":2.62,"y":2.62},{"p":5,"k":10,"x":6.82,"y":-2.3},{"p":5,"k":10,"x":9.21,"y":-6.59},
{"p":5,"k":11,"x":11.17,"y":-6.45},{"p":5,"k":11,"x":8.74,"y":-7.19},{"p":5,"k":11,"x":3.99,"y":-6},{"p":5,"k":11,"x":-1.85,"y":-3.2},{"p":5,"k":11,"x":-7.19,"y":0.46},{"p":5,"k":11,"x":-10.6,"y":3.99},{"p":5,"k":11,"x":-11.17,"y":6.45},{"p":5,"k":11,"x":-8.74,"y":7.19},{"p":5,"k":11,"x":-3.99,"y":6},{"p":5,"k":11,"x":1.85,"y":3.2},{"p":5,"k":11,"x":7.19,"y":-0.46},{"p":5,"k":11,"x":10.6,"y":-3.99},
{"p":5,"k":12,"x":12.46,"y":-3.34},{"p":5,"k":12,"x":10.31,"y":-4.68},{"p":5,"k":12,"x":5.4,"y":-4.76},{"p":5,"k":12,"x":-0.96,"y":-3.57},{"p":5,"k":12,"x":-7.06,"y":-1.42},{"p":5,"k":12,"x":-11.27,"y":1.1},{"p":5,"k":12,"x":-12.46,"y":3.34},{"p":5,"k":12,"x":-10.31,"y":4.68},{"p":5,"k":12,"x":-5.4,"y":4.76},{"p":5,"k":12,"x":0.96,"y":3.57},{"p":5,"k":12,"x":7.06,"y":1.42},{"p":5,"k":12,"x":11.27,"y":-1.1}
],
"rz": [
{"p":1,"R":8,"Z":-0.51},{"p":1,"R":8,"Z":0.51},
{"p":2,"R":7.91,"Z":0},{"p":2,"R":8.55,"Z":0.262},{"p":2,"R":9.11,"Z":0.472},{"p":2,"R":9.52,"Z":0.561},{"p":2,"R":9.74,"Z":0.493},{"p":2,"R":9.74,"Z":0.285},{"p":2,"R":9.52,"Z":0},{"p":2,"R":9.11,"Z":-0.273},{"p":2,"R":8.55,"Z":-0.454},{"p":2,"R":7.91,"Z":-0.5},{"p":2,"R":7.27,"Z":-0.412},{"p":2,"R":6.71,"Z":-0.228},{"p":2,"R":6.3,"Z":0},{"p":2,"R":6.08,"Z":0.216},{"p":2,"R":6.08,"Z":0.373},{"p":2,"R":6.3,"Z":0.439},{"p":2,"R":6.71,"Z":0.394},{"p":2,"R":7.27,"Z":0.238},
{"p":2,"R":7.91,"Z":0},{"p":2,"R":8.55,"Z":-0.262},{"p":2,"R":9.11,"Z":-0.472},{"p":2,"R":9.52,"Z":-0.561},{"p":2,"R":9.74,"Z":-0.493},{"p":2,"R":9.74,"Z":-0.285},{"p":2,"R":9.52,"Z":0},{"p":2,"R":9.11,"Z":0.273},{"p":2,"R":8.55,"Z":0.454},{"p":2,"R":7.91,"Z":0.5},{"p":2,"R":7.27,"Z":0.412},{"p":2,"R":6.71,"Z":0.228},{"p":2,"R":6.3,"Z":0},{"p":2,"R":6.08,"Z":-0.216},{"p":2,"R":6.08,"Z":-0.373},{"p":2,"R":6.3,"Z":-0.439},{"p":2,"R":6.71,"Z":-0.394},{"p":2,"R":7.27,"Z":-0.238}
],
"rza": [
{"p":3,"g":"b","R":5.14,"hi":0.38,"lo":-0.36},{"p":3,"g":"b","R":5.3,"hi":0.41,"lo":-0.38},{"p":3,"g":"b","R":5.6,"hi":0.4,"lo":-0.38},{"p":3,"g":"b","R":5.85,"hi":0.36,"lo":-0.35},{"p":3,"g":"b","R":6.05,"hi":0.33,"lo":-0.33},{"p":3,"g":"b","R":6.3,"hi":0.4,"lo":-0.39},{"p":3,"g":"b","R":6.7,"hi":0.47,"lo":-0.45},{"p":3,"g":"b","R":7.2,"hi":0.51,"lo":-0.48},{"p":3,"g":"b","R":10.1,"hi":0.63,"lo":-0.62},{"p":3,"g":"b","R":10.35,"hi":0.61,"lo":-0.6},{"p":3,"g":"b","R":10.46,"hi":0.55,"lo":-0.55},
{"p":3,"g":"h","R":7.37,"hi":0,"lo":0},{"p":3,"g":"h","R":8.0,"hi":0.18,"lo":-0.18},{"p":3,"g":"h","R":8.64,"hi":0.36,"lo":-0.355},{"p":3,"g":"h","R":9.2,"hi":0.21,"lo":-0.2},{"p":3,"g":"h","R":9.68,"hi":0,"lo":0},
{"p":4,"g":"b","R":4.4,"hi":0.36,"lo":-0.36},{"p":4,"g":"b","R":10.8,"hi":0.69,"lo":-0.68},{"p":4,"g":"b","R":10.97,"hi":0.65,"lo":-0.64},
{"p":4,"g":"w","R":5.9,"hi":0.26,"lo":-0.26},{"p":4,"g":"w","R":10.5,"hi":0.55,"lo":-0.54},
{"p":5,"g":"b","R":3.8,"hi":0.35,"lo":-0.36},{"p":5,"g":"b","R":11.9,"hi":0.77,"lo":-0.78},{"p":5,"g":"b","R":12.06,"hi":0.72,"lo":-0.73},
{"p":5,"g":"w","R":5.6,"hi":0.3,"lo":-0.3},{"p":5,"g":"w","R":11.6,"hi":0.63,"lo":-0.64},
{"p":5,"g":"h","R":8.2,"hi":0,"lo":0},{"p":5,"g":"h","R":8.8,"hi":0.13,"lo":-0.12},{"p":5,"g":"h","R":9.44,"hi":0,"lo":0}
],
"lf": [
{"p":1,"g":"o","y":257,"l":0,"r":0},{"p":1,"g":"o","y":254.7,"l":-14.9,"r":14.9},{"p":1,"g":"o","y":248.3,"l":-29.5,"r":29.5},{"p":1,"g":"o","y":222.6,"l":-57,"r":57},{"p":1,"g":"o","y":181.7,"l":-80.6,"r":80.6},{"p":1,"g":"o","y":128.5,"l":-98.7,"r":98.7},{"p":1,"g":"o","y":66.6,"l":-110.1,"r":110.1},{"p":1,"g":"o","y":0,"l":-114,"r":114},{"p":1,"g":"o","y":-66.6,"l":-110.1,"r":110.1},{"p":1,"g":"o","y":-128.5,"l":-98.7,"r":98.7},{"p":1,"g":"o","y":-181.7,"l":-80.6,"r":80.6},{"p":1,"g":"o","y":-222.6,"l":-57,"r":57},{"p":1,"g":"o","y":-248.3,"l":-29.5,"r":29.5},{"p":1,"g":"o","y":-254.7,"l":-14.9,"r":14.9},{"p":1,"g":"o","y":-257,"l":0,"r":0},
{"p":1,"g":"i","y":247,"l":0,"r":0},{"p":1,"g":"i","y":244.8,"l":-13.4,"r":13.4},{"p":1,"g":"i","y":238.6,"l":-26.4,"r":26.4},{"p":1,"g":"i","y":213.9,"l":-51,"r":51},{"p":1,"g":"i","y":174.6,"l":-72.1,"r":72.1},{"p":1,"g":"i","y":123.5,"l":-88.3,"r":88.3},{"p":1,"g":"i","y":64,"l":-98.5,"r":98.5},{"p":1,"g":"i","y":0,"l":-102,"r":102},{"p":1,"g":"i","y":-64,"l":-98.5,"r":98.5},{"p":1,"g":"i","y":-123.5,"l":-88.3,"r":88.3},{"p":1,"g":"i","y":-174.6,"l":-72.1,"r":72.1},{"p":1,"g":"i","y":-213.9,"l":-51,"r":51},{"p":1,"g":"i","y":-238.6,"l":-26.4,"r":26.4},{"p":1,"g":"i","y":-244.8,"l":-13.4,"r":13.4},{"p":1,"g":"i","y":-247,"l":0,"r":0},
{"p":2,"g":"o","y":255,"l":0,"r":0},{"p":2,"g":"o","y":252.7,"l":-15.7,"r":15.7},{"p":2,"g":"o","y":246.3,"l":-31.1,"r":31.1},{"p":2,"g":"o","y":220.8,"l":-60,"r":60},{"p":2,"g":"o","y":180.3,"l":-84.8,"r":84.8},{"p":2,"g":"o","y":127.5,"l":-103.9,"r":103.9},{"p":2,"g":"o","y":66,"l":-115.9,"r":115.9},{"p":2,"g":"o","y":0,"l":-120,"r":120},{"p":2,"g":"o","y":-66,"l":-115.9,"r":115.9},{"p":2,"g":"o","y":-127.5,"l":-103.9,"r":103.9},{"p":2,"g":"o","y":-180.3,"l":-84.8,"r":84.8},{"p":2,"g":"o","y":-220.8,"l":-60,"r":60},{"p":2,"g":"o","y":-246.3,"l":-31.1,"r":31.1},{"p":2,"g":"o","y":-252.7,"l":-15.7,"r":15.7},{"p":2,"g":"o","y":-255,"l":0,"r":0},
{"p":2,"g":"i","y":236,"l":0,"r":0},{"p":2,"g":"i","y":233.9,"l":-12.6,"r":12.6},{"p":2,"g":"i","y":228,"l":-24.9,"r":24.9},{"p":2,"g":"i","y":204.4,"l":-48,"r":48},{"p":2,"g":"i","y":166.9,"l":-67.9,"r":67.9},{"p":2,"g":"i","y":118,"l":-83.1,"r":83.1},{"p":2,"g":"i","y":61.1,"l":-92.7,"r":92.7},{"p":2,"g":"i","y":0,"l":-96,"r":96},{"p":2,"g":"i","y":-61.1,"l":-92.7,"r":92.7},{"p":2,"g":"i","y":-118,"l":-83.1,"r":83.1},{"p":2,"g":"i","y":-166.9,"l":-67.9,"r":67.9},{"p":2,"g":"i","y":-204.4,"l":-48,"r":48},{"p":2,"g":"i","y":-228,"l":-24.9,"r":24.9},{"p":2,"g":"i","y":-233.9,"l":-12.6,"r":12.6},{"p":2,"g":"i","y":-236,"l":0,"r":0},
{"p":3,"g":"o","y":258,"l":0,"r":0},{"p":3,"g":"o","y":255.7,"l":-15.7,"r":15.7},{"p":3,"g":"o","y":249.2,"l":-31.1,"r":31.1},{"p":3,"g":"o","y":223.4,"l":-60,"r":60},{"p":3,"g":"o","y":182.4,"l":-84.8,"r":84.8},{"p":3,"g":"o","y":129,"l":-103.9,"r":103.9},{"p":3,"g":"o","y":66.8,"l":-115.9,"r":115.9},{"p":3,"g":"o","y":0,"l":-120,"r":120},{"p":3,"g":"o","y":-66.8,"l":-115.9,"r":115.9},{"p":3,"g":"o","y":-129,"l":-103.9,"r":103.9},{"p":3,"g":"o","y":-182.4,"l":-84.8,"r":84.8},{"p":3,"g":"o","y":-223.4,"l":-60,"r":60},{"p":3,"g":"o","y":-249.2,"l":-31.1,"r":31.1},{"p":3,"g":"o","y":-255.7,"l":-15.7,"r":15.7},{"p":3,"g":"o","y":-258,"l":0,"r":0},
{"p":3,"g":"i","y":213,"l":0,"r":0},{"p":3,"g":"i","y":211.1,"l":-11,"r":11},{"p":3,"g":"i","y":205.8,"l":-21.8,"r":21.8},{"p":3,"g":"i","y":184.5,"l":-42,"r":42},{"p":3,"g":"i","y":150.6,"l":-59.4,"r":59.4},{"p":3,"g":"i","y":106.5,"l":-72.7,"r":72.7},{"p":3,"g":"i","y":55.2,"l":-81.1,"r":81.1},{"p":3,"g":"i","y":0,"l":-84,"r":84},{"p":3,"g":"i","y":-55.2,"l":-81.1,"r":81.1},{"p":3,"g":"i","y":-106.5,"l":-72.7,"r":72.7},{"p":3,"g":"i","y":-150.6,"l":-59.4,"r":59.4},{"p":3,"g":"i","y":-184.5,"l":-42,"r":42},{"p":3,"g":"i","y":-205.8,"l":-21.8,"r":21.8},{"p":3,"g":"i","y":-211.1,"l":-11,"r":11},{"p":3,"g":"i","y":-213,"l":0,"r":0},
{"p":4,"g":"o","y":250,"l":0,"r":0},{"p":4,"g":"o","y":247.8,"l":-14,"r":14},{"p":4,"g":"o","y":241.5,"l":-27.7,"r":27.7},{"p":4,"g":"o","y":216.5,"l":-53.5,"r":53.5},{"p":4,"g":"o","y":176.8,"l":-75.6,"r":75.6},{"p":4,"g":"o","y":125,"l":-92.7,"r":92.7},{"p":4,"g":"o","y":64.8,"l":-103.4,"r":103.4},{"p":4,"g":"o","y":0,"l":-107,"r":107},{"p":4,"g":"o","y":-64.8,"l":-103.4,"r":103.4},{"p":4,"g":"o","y":-125,"l":-92.7,"r":92.7},{"p":4,"g":"o","y":-176.8,"l":-75.6,"r":75.6},{"p":4,"g":"o","y":-216.5,"l":-53.5,"r":53.5},{"p":4,"g":"o","y":-241.5,"l":-27.7,"r":27.7},{"p":4,"g":"o","y":-247.8,"l":-14,"r":14},{"p":4,"g":"o","y":-250,"l":0,"r":0},
{"p":4,"g":"i","y":150,"l":0,"r":0},{"p":4,"g":"i","y":148.7,"l":-9.8,"r":9.8},{"p":4,"g":"i","y":144.9,"l":-19.4,"r":19.4},{"p":4,"g":"i","y":129.9,"l":-37.5,"r":37.5},{"p":4,"g":"i","y":106.1,"l":-53,"r":53},{"p":4,"g":"i","y":75,"l":-65,"r":65},{"p":4,"g":"i","y":38.9,"l":-72.5,"r":72.5},{"p":4,"g":"i","y":0,"l":-75,"r":75},{"p":4,"g":"i","y":-38.9,"l":-72.5,"r":72.5},{"p":4,"g":"i","y":-75,"l":-65,"r":65},{"p":4,"g":"i","y":-106.1,"l":-53,"r":53},{"p":4,"g":"i","y":-129.9,"l":-37.5,"r":37.5},{"p":4,"g":"i","y":-144.9,"l":-19.4,"r":19.4},{"p":4,"g":"i","y":-148.7,"l":-9.8,"r":9.8},{"p":4,"g":"i","y":-150,"l":0,"r":0},
{"p":5,"g":"o","y":266,"l":0,"r":0},{"p":5,"g":"o","y":263.6,"l":-14.8,"r":14.8},{"p":5,"g":"o","y":257,"l":-29.3,"r":29.3},{"p":5,"g":"o","y":230.4,"l":-56.5,"r":56.5},{"p":5,"g":"o","y":188.1,"l":-79.9,"r":79.9},{"p":5,"g":"o","y":133,"l":-97.9,"r":97.9},{"p":5,"g":"o","y":68.9,"l":-109.2,"r":109.2},{"p":5,"g":"o","y":0,"l":-113,"r":113},{"p":5,"g":"o","y":-68.9,"l":-109.2,"r":109.2},{"p":5,"g":"o","y":-133,"l":-97.9,"r":97.9},{"p":5,"g":"o","y":-188.1,"l":-79.9,"r":79.9},{"p":5,"g":"o","y":-230.4,"l":-56.5,"r":56.5},{"p":5,"g":"o","y":-257,"l":-29.3,"r":29.3},{"p":5,"g":"o","y":-263.6,"l":-14.8,"r":14.8},{"p":5,"g":"o","y":-266,"l":0,"r":0},
{"p":5,"g":"i","y":143,"l":0,"r":0},{"p":5,"g":"i","y":141.7,"l":-11.5,"r":11.5},{"p":5,"g":"i","y":138.1,"l":-22.8,"r":22.8},{"p":5,"g":"i","y":123.8,"l":-44,"r":44},{"p":5,"g":"i","y":101.1,"l":-62.2,"r":62.2},{"p":5,"g":"i","y":71.5,"l":-76.2,"r":76.2},{"p":5,"g":"i","y":37,"l":-85,"r":85},{"p":5,"g":"i","y":0,"l":-88,"r":88},{"p":5,"g":"i","y":-37,"l":-85,"r":85},{"p":5,"g":"i","y":-71.5,"l":-76.2,"r":76.2},{"p":5,"g":"i","y":-101.1,"l":-62.2,"r":62.2},{"p":5,"g":"i","y":-123.8,"l":-44,"r":44},{"p":5,"g":"i","y":-138.1,"l":-22.8,"r":22.8},{"p":5,"g":"i","y":-141.7,"l":-11.5,"r":11.5},{"p":5,"g":"i","y":-143,"l":0,"r":0}
],
"ld": [
{"p":1,"x":120,"y":0},{"p":1,"x":103.9,"y":129},{"p":1,"x":60,"y":223.4},{"p":1,"x":0,"y":258},{"p":1,"x":-60,"y":223.4},{"p":1,"x":-103.9,"y":129},{"p":1,"x":-120,"y":0},{"p":1,"x":-103.9,"y":-129},{"p":1,"x":-60,"y":-223.4},{"p":1,"x":0,"y":-258},{"p":1,"x":60,"y":-223.4},{"p":1,"x":103.9,"y":-129},
{"p":2,"x":130,"y":0},{"p":2,"x":112.6,"y":131.5},{"p":2,"x":65,"y":227.8},{"p":2,"x":0,"y":263},{"p":2,"x":-65,"y":227.8},{"p":2,"x":-112.6,"y":131.5},{"p":2,"x":-130,"y":0},{"p":2,"x":-112.6,"y":-131.5},{"p":2,"x":-65,"y":-227.8},{"p":2,"x":0,"y":-263},{"p":2,"x":65,"y":-227.8},{"p":2,"x":112.6,"y":-131.5},
{"p":3,"x":134,"y":0},{"p":3,"x":116,"y":134},{"p":3,"x":67,"y":232.1},{"p":3,"x":0,"y":268},{"p":3,"x":-67,"y":232.1},{"p":3,"x":-116,"y":134},{"p":3,"x":-134,"y":0},{"p":3,"x":-116,"y":-134},{"p":3,"x":-67,"y":-232.1},{"p":3,"x":0,"y":-268},{"p":3,"x":67,"y":-232.1},{"p":3,"x":116,"y":-134},
{"p":4,"x":130,"y":0},{"p":4,"x":112.6,"y":136.5},{"p":4,"x":65,"y":236.4},{"p":4,"x":0,"y":273},{"p":4,"x":-65,"y":236.4},{"p":4,"x":-112.6,"y":136.5},{"p":4,"x":-130,"y":0},{"p":4,"x":-112.6,"y":-136.5},{"p":4,"x":-65,"y":-236.4},{"p":4,"x":0,"y":-273},{"p":4,"x":65,"y":-236.4},{"p":4,"x":112.6,"y":-136.5},
{"p":5,"x":132,"y":0},{"p":5,"x":114.3,"y":138.5},{"p":5,"x":66,"y":239.9},{"p":5,"x":0,"y":277},{"p":5,"x":-66,"y":239.9},{"p":5,"x":-114.3,"y":138.5},{"p":5,"x":-132,"y":0},{"p":5,"x":-114.3,"y":-138.5},{"p":5,"x":-66,"y":-239.9},{"p":5,"x":0,"y":-277},{"p":5,"x":66,"y":-239.9},{"p":5,"x":114.3,"y":-138.5}
]
},
"vconcat": [
{"bounds": "flush", "spacing": 0, "hconcat": [
{"width":202,"height":275,"resolve":{"axis":{"x":"independent","y":"independent"}},"layer":[
{"data":{"name":"ax"},"mark":{"type":"point","opacity":0,"clip":true},"encoding":{"x":{"field":"v","type":"quantitative","scale":{"domain":[-12,12],"nice":false,"zero":false},"axis":{"orient":"bottom","values":[-12,-8,-4,0,4,8,12],"tickSize":-7,"labels":false,"title":null}},"y":{"field":"v","type":"quantitative","scale":{"domain":[-12,12],"nice":false,"zero":false},"axis":{"orient":"left","values":[-12,-8,-4,0,4,8,12],"tickSize":-7,"title":"Y [kpc]","titlePadding":6}}}},
{"data":{"name":"ax"},"mark":{"type":"point","opacity":0,"clip":true},"encoding":{"x":{"field":"v","type":"quantitative","axis":{"orient":"top","values":[-12,-8,-4,0,4,8,12],"tickSize":-7,"labelPadding":20,"title":"X [kpc]","titlePadding":2}},"y":{"field":"v","type":"quantitative","axis":{"orient":"right","values":[-12,-8,-4,0,4,8,12],"tickSize":-7,"labels":false,"title":null}}}},
{"data":{"name":"ax"},"mark":{"type":"point","opacity":0,"clip":true},"encoding":{"x":{"field":"v","type":"quantitative","axis":{"orient":"bottom","values":[-10,-6,-2,2,6,10],"tickSize":-4,"labels":false,"title":null}},"y":{"field":"v","type":"quantitative","axis":{"orient":"left","values":[-10,-6,-2,2,6,10],"tickSize":-4,"labels":false,"title":null}}}},
{"data":{"name":"ax"},"mark":{"type":"point","opacity":0,"clip":true},"encoding":{"x":{"field":"v","type":"quantitative","axis":{"orient":"top","values":[-10,-6,-2,2,6,10],"tickSize":-4,"labels":false,"title":null}},"y":{"field":"v","type":"quantitative","axis":{"orient":"right","values":[-10,-6,-2,2,6,10],"tickSize":-4,"labels":false,"title":null}}}},
{"data":{"name":"xy"},"transform":[{"filter":"datum.p==1"}],"mark":{"type":"line","interpolate":"cardinal-closed","strokeWidth":4,"color":"#7b4f8b","clip":true},"encoding":{"x":{"field":"x","type":"quantitative","axis":null},"y":{"field":"y","type":"quantitative","axis":null},"detail":{"field":"k"},"order":{"value":null}}}
]},
{"width":202,"height":275,"resolve":{"axis":{"x":"independent","y":"independent"}},"layer":[
{"data":{"name":"ax"},"mark":{"type":"point","opacity":0,"clip":true},"encoding":{"x":{"field":"v","type":"quantitative","scale":{"domain":[-12,12],"nice":false,"zero":false},"axis":{"orient":"bottom","values":[-12,-8,-4,0,4,8,12],"tickSize":-7,"labels":false,"title":null}},"y":{"field":"v","type":"quantitative","scale":{"domain":[-12,12],"nice":false,"zero":false},"axis":{"orient":"left","values":[-12,-8,-4,0,4,8,12],"tickSize":-7,"labels":false,"title":null}}}},
{"data":{"name":"ax"},"mark":{"type":"point","opacity":0,"clip":true},"encoding":{"x":{"field":"v","type":"quantitative","axis":{"orient":"top","values":[-12,-8,-4,0,4,8,12],"tickSize":-7,"labels":false,"title":null}},"y":{"field":"v","type":"quantitative","axis":{"orient":"right","values":[-12,-8,-4,0,4,8,12],"tickSize":-7,"labels":false,"title":null}}}},
{"data":{"name":"ax"},"mark":{"type":"point","opacity":0,"clip":true},"encoding":{"x":{"field":"v","type":"quantitative","axis":{"orient":"bottom","values":[-10,-6,-2,2,6,10],"tickSize":-4,"labels":false,"title":null}},"y":{"field":"v","type":"quantitative","axis":{"orient":"left","values":[-10,-6,-2,2,6,10],"tickSize":-4,"labels":false,"title":null}}}},
{"data":{"name":"ax"},"mark":{"type":"point","opacity":0,"clip":true},"encoding":{"x":{"field":"v","type":"quantitative","axis":{"orient":"top","values":[-10,-6,-2,2,6,10],"tickSize":-4,"labels":false,"title":null}},"y":{"field":"v","type":"quantitative","axis":{"orient":"right","values":[-10,-6,-2,2,6,10],"tickSize":-4,"labels":false,"title":null}}}},
{"data":{"name":"xy"},"transform":[{"filter":"datum.p==2"}],"mark":{"type":"line","interpolate":"cardinal-closed","strokeWidth":3.2,"color":"#7a87b1","clip":true},"encoding":{"x":{"field":"x","type":"quantitative","axis":null},"y":{"field":"y","type":"quantitative","axis":null},"detail":{"field":"k"},"order":{"value":null}}}
]},
{"width":202,"height":275,"resolve":{"axis":{"x":"independent","y":"independent"}},"layer":[
{"data":{"name":"ax"},"mark":{"type":"point","opacity":0,"clip":true},"encoding":{"x":{"field":"v","type":"quantitative","scale":{"domain":[-12,12],"nice":false,"zero":false},"axis":{"orient":"bottom","values":[-12,-8,-4,0,4,8,12],"tickSize":-7,"labels":false,"title":null}},"y":{"field":"v","type":"quantitative","scale":{"domain":[-12,12],"nice":false,"zero":false},"axis":{"orient":"left","values":[-12,-8,-4,0,4,8,12],"tickSize":-7,"labels":false,"title":null}}}},
{"data":{"name":"ax"},"mark":{"type":"point","opacity":0,"clip":true},"encoding":{"x":{"field":"v","type":"quantitative","axis":{"orient":"top","values":[-12,-8,-4,0,4,8,12],"tickSize":-7,"labels":false,"title":null}},"y":{"field":"v","type":"quantitative","axis":{"orient":"right","values":[-12,-8,-4,0,4,8,12],"tickSize":-7,"labels":false,"title":null}}}},
{"data":{"name":"ax"},"mark":{"type":"point","opacity":0,"clip":true},"encoding":{"x":{"field":"v","type":"quantitative","axis":{"orient":"bottom","values":[-10,-6,-2,2,6,10],"tickSize":-4,"labels":false,"title":null}},"y":{"field":"v","type":"quantitative","axis":{"orient":"left","values":[-10,-6,-2,2,6,10],"tickSize":-4,"labels":false,"title":null}}}},
{"data":{"name":"ax"},"mark":{"type":"point","opacity":0,"clip":true},"encoding":{"x":{"field":"v","type":"quantitative","axis":{"orient":"top","values":[-10,-6,-2,2,6,10],"tickSize":-4,"labels":false,"title":null}},"y":{"field":"v","type":"quantitative","axis":{"orient":"right","values":[-10,-6,-2,2,6,10],"tickSize":-4,"labels":false,"title":null}}}},
{"data":{"name":"xy"},"transform":[{"filter":"datum.p==3"}],"mark":{"type":"line","interpolate":"cardinal-closed","strokeWidth":2.5,"color":"#64b3ad","clip":true},"encoding":{"x":{"field":"x","type":"quantitative","axis":null},"y":{"field":"y","type":"quantitative","axis":null},"detail":{"field":"k"},"order":{"value":null}}}
]},
{"width":202,"height":275,"resolve":{"axis":{"x":"independent","y":"independent"}},"layer":[
{"data":{"name":"ax"},"mark":{"type":"point","opacity":0,"clip":true},"encoding":{"x":{"field":"v","type":"quantitative","scale":{"domain":[-12,12],"nice":false,"zero":false},"axis":{"orient":"bottom","values":[-12,-8,-4,0,4,8,12],"tickSize":-7,"labels":false,"title":null}},"y":{"field":"v","type":"quantitative","scale":{"domain":[-12,12],"nice":false,"zero":false},"axis":{"orient":"left","values":[-12,-8,-4,0,4,8,12],"tickSize":-7,"labels":false,"title":null}}}},
{"data":{"name":"ax"},"mark":{"type":"point","opacity":0,"clip":true},"encoding":{"x":{"field":"v","type":"quantitative","axis":{"orient":"top","values":[-12,-8,-4,0,4,8,12],"tickSize":-7,"labels":false,"title":null}},"y":{"field":"v","type":"quantitative","axis":{"orient":"right","values":[-12,-8,-4,0,4,8,12],"tickSize":-7,"labels":false,"title":null}}}},
{"data":{"name":"ax"},"mark":{"type":"point","opacity":0,"clip":true},"encoding":{"x":{"field":"v","type":"quantitative","axis":{"orient":"bottom","values":[-10,-6,-2,2,6,10],"tickSize":-4,"labels":false,"title":null}},"y":{"field":"v","type":"quantitative","axis":{"orient":"left","values":[-10,-6,-2,2,6,10],"tickSize":-4,"labels":false,"title":null}}}},
{"data":{"name":"ax"},"mark":{"type":"point","opacity":0,"clip":true},"encoding":{"x":{"field":"v","type":"quantitative","axis":{"orient":"top","values":[-10,-6,-2,2,6,10],"tickSize":-4,"labels":false,"title":null}},"y":{"field":"v","type":"quantitative","axis":{"orient":"right","values":[-10,-6,-2,2,6,10],"tickSize":-4,"labels":false,"title":null}}}},
{"data":{"name":"xy"},"transform":[{"filter":"datum.p==4"}],"mark":{"type":"line","interpolate":"cardinal-closed","strokeWidth":3.2,"color":"#8fd68f","clip":true},"encoding":{"x":{"field":"x","type":"quantitative","axis":null},"y":{"field":"y","type":"quantitative","axis":null},"detail":{"field":"k"},"order":{"value":null}}}
]},
{"width":202,"height":275,"resolve":{"axis":{"x":"independent","y":"independent"}},"layer":[
{"data":{"name":"ax"},"mark":{"type":"point","opacity":0,"clip":true},"encoding":{"x":{"field":"v","type":"quantitative","scale":{"domain":[-12,12],"nice":false,"zero":false},"axis":{"orient":"bottom","values":[-12,-8,-4,0,4,8,12],"tickSize":-7,"labels":false,"title":null}},"y":{"field":"v","type":"quantitative","scale":{"domain":[-12,12],"nice":false,"zero":false},"axis":{"orient":"left","values":[-12,-8,-4,0,4,8,12],"tickSize":-7,"labels":false,"title":null}}}},
{"data":{"name":"ax"},"mark":{"type":"point","opacity":0,"clip":true},"encoding":{"x":{"field":"v","type":"quantitative","axis":{"orient":"top","values":[-12,-8,-4,0,4,8,12],"tickSize":-7,"labels":false,"title":null}},"y":{"field":"v","type":"quantitative","axis":{"orient":"right","values":[-12,-8,-4,0,4,8,12],"tickSize":-7,"labels":false,"title":null}}}},
{"data":{"name":"ax"},"mark":{"type":"point","opacity":0,"clip":true},"encoding":{"x":{"field":"v","type":"quantitative","axis":{"orient":"bottom","values":[-10,-6,-2,2,6,10],"tickSize":-4,"labels":false,"title":null}},"y":{"field":"v","type":"quantitative","axis":{"orient":"left","values":[-10,-6,-2,2,6,10],"tickSize":-4,"labels":false,"title":null}}}},
{"data":{"name":"ax"},"mark":{"type":"point","opacity":0,"clip":true},"encoding":{"x":{"field":"v","type":"quantitative","axis":{"orient":"top","values":[-10,-6,-2,2,6,10],"tickSize":-4,"labels":false,"title":null}},"y":{"field":"v","type":"quantitative","axis":{"orient":"right","values":[-10,-6,-2,2,6,10],"tickSize":-4,"labels":false,"title":null}}}},
{"data":{"name":"xy"},"transform":[{"filter":"datum.p==5"}],"mark":{"type":"line","interpolate":"cardinal-closed","strokeWidth":3.2,"color":"#f8e66b","clip":true},"encoding":{"x":{"field":"x","type":"quantitative","axis":null},"y":{"field":"y","type":"quantitative","axis":null},"detail":{"field":"k"},"order":{"value":null}}}
]}
]},
{"bounds": "flush", "spacing": 0, "hconcat": [
{"width":202,"height":278,"resolve":{"axis":{"x":"independent","y":"independent"}},"layer":[
{"data":{"name":"ax"},"mark":{"type":"point","opacity":0,"clip":true},"encoding":{"x":{"field":"v","type":"quantitative","scale":{"domain":[3,13],"nice":false,"zero":false},"axis":{"orient":"bottom","values":[4,6,8,10,12],"tickSize":-7,"title":"R [kpc]","titlePadding":13}},"y":{"field":"v","type":"quantitative","scale":{"domain":[-1.1,1.1],"nice":false,"zero":false},"axis":{"orient":"left","values":[-1,-0.5,0,0.5,1],"format":".1f","tickSize":-7,"title":"Z [kpc]","titlePadding":6}}}},
{"data":{"name":"ax"},"mark":{"type":"point","opacity":0,"clip":true},"encoding":{"x":{"field":"v","type":"quantitative","axis":{"orient":"top","values":[4,6,8,10,12],"tickSize":-7,"labels":false,"title":null}},"y":{"field":"v","type":"quantitative","axis":{"orient":"right","values":[-1,-0.5,0,0.5,1],"tickSize":-7,"labels":false,"title":null}}}},
{"data":{"name":"ax"},"mark":{"type":"point","opacity":0,"clip":true},"encoding":{"x":{"field":"v","type":"quantitative","axis":{"orient":"bottom","values":[5,7,9,11],"tickSize":-4,"labels":false,"title":null}},"y":{"field":"v","type":"quantitative","axis":{"orient":"left","values":[-0.75,-0.25,0.25,0.75],"tickSize":-4,"labels":false,"title":null}}}},
{"data":{"name":"ax"},"mark":{"type":"point","opacity":0,"clip":true},"encoding":{"x":{"field":"v","type":"quantitative","axis":{"orient":"top","values":[5,7,9,11],"tickSize":-4,"labels":false,"title":null}},"y":{"field":"v","type":"quantitative","axis":{"orient":"right","values":[-0.75,-0.25,0.25,0.75],"tickSize":-4,"labels":false,"title":null}}}},
{"data":{"name":"rz"},"transform":[{"filter":"datum.p==1"}],"mark":{"type":"line","strokeWidth":5,"color":"#7b4f8b","clip":true},"encoding":{"x":{"field":"R","type":"quantitative","axis":null},"y":{"field":"Z","type":"quantitative","axis":null},"order":{"value":null}}},
{"data":{"name":"eps"},"transform":[{"filter":"datum.p==1"}],"mark":{"type":"text","align":"left","baseline":"middle","font":"Liberation Sans","fontSize":13.5,"color":"black"},"encoding":{"x":{"datum":3.72,"type":"quantitative","axis":null},"y":{"datum":0.83,"type":"quantitative","axis":null},"text":{"field":"t"}}}
]},
{"width":202,"height":278,"resolve":{"axis":{"x":"independent","y":"independent"}},"layer":[
{"data":{"name":"ax"},"mark":{"type":"point","opacity":0,"clip":true},"encoding":{"x":{"field":"v","type":"quantitative","scale":{"domain":[3,13],"nice":false,"zero":false},"axis":{"orient":"bottom","values":[4,6,8,10,12],"tickSize":-7,"labels":false,"title":null}},"y":{"field":"v","type":"quantitative","scale":{"domain":[-1.1,1.1],"nice":false,"zero":false},"axis":{"orient":"left","values":[-1,-0.5,0,0.5,1],"tickSize":-7,"labels":false,"title":null}}}},
{"data":{"name":"ax"},"mark":{"type":"point","opacity":0,"clip":true},"encoding":{"x":{"field":"v","type":"quantitative","axis":{"orient":"top","values":[4,6,8,10,12],"tickSize":-7,"labels":false,"title":null}},"y":{"field":"v","type":"quantitative","axis":{"orient":"right","values":[-1,-0.5,0,0.5,1],"tickSize":-7,"labels":false,"title":null}}}},
{"data":{"name":"ax"},"mark":{"type":"point","opacity":0,"clip":true},"encoding":{"x":{"field":"v","type":"quantitative","axis":{"orient":"bottom","values":[5,7,9,11],"tickSize":-4,"labels":false,"title":null}},"y":{"field":"v","type":"quantitative","axis":{"orient":"left","values":[-0.75,-0.25,0.25,0.75],"tickSize":-4,"labels":false,"title":null}}}},
{"data":{"name":"ax"},"mark":{"type":"point","opacity":0,"clip":true},"encoding":{"x":{"field":"v","type":"quantitative","axis":{"orient":"top","values":[5,7,9,11],"tickSize":-4,"labels":false,"title":null}},"y":{"field":"v","type":"quantitative","axis":{"orient":"right","values":[-0.75,-0.25,0.25,0.75],"tickSize":-4,"labels":false,"title":null}}}},
{"data":{"name":"rz"},"transform":[{"filter":"datum.p==2"}],"mark":{"type":"line","interpolate":"cardinal-closed","strokeWidth":3.5,"color":"#7a87b1","clip":true},"encoding":{"x":{"field":"R","type":"quantitative","axis":null},"y":{"field":"Z","type":"quantitative","axis":null},"order":{"value":null}}},
{"data":{"name":"eps"},"transform":[{"filter":"datum.p==2"}],"mark":{"type":"text","align":"left","baseline":"middle","font":"Liberation Sans","fontSize":13.5,"color":"black"},"encoding":{"x":{"datum":3.72,"type":"quantitative","axis":null},"y":{"datum":0.83,"type":"quantitative","axis":null},"text":{"field":"t"}}}
]},
{"width":202,"height":278,"resolve":{"axis":{"x":"independent","y":"independent"}},"layer":[
{"data":{"name":"ax"},"mark":{"type":"point","opacity":0,"clip":true},"encoding":{"x":{"field":"v","type":"quantitative","scale":{"domain":[3,13],"nice":false,"zero":false},"axis":{"orient":"bottom","values":[4,6,8,10,12],"tickSize":-7,"labels":false,"title":null}},"y":{"field":"v","type":"quantitative","scale":{"domain":[-1.1,1.1],"nice":false,"zero":false},"axis":{"orient":"left","values":[-1,-0.5,0,0.5,1],"tickSize":-7,"labels":false,"title":null}}}},
{"data":{"name":"ax"},"mark":{"type":"point","opacity":0,"clip":true},"encoding":{"x":{"field":"v","type":"quantitative","axis":{"orient":"top","values":[4,6,8,10,12],"tickSize":-7,"labels":false,"title":null}},"y":{"field":"v","type":"quantitative","axis":{"orient":"right","values":[-1,-0.5,0,0.5,1],"tickSize":-7,"labels":false,"title":null}}}},
{"data":{"name":"ax"},"mark":{"type":"point","opacity":0,"clip":true},"encoding":{"x":{"field":"v","type":"quantitative","axis":{"orient":"bottom","values":[5,7,9,11],"tickSize":-4,"labels":false,"title":null}},"y":{"field":"v","type":"quantitative","axis":{"orient":"left","values":[-0.75,-0.25,0.25,0.75],"tickSize":-4,"labels":false,"title":null}}}},
{"data":{"name":"ax"},"mark":{"type":"point","opacity":0,"clip":true},"encoding":{"x":{"field":"v","type":"quantitative","axis":{"orient":"top","values":[5,7,9,11],"tickSize":-4,"labels":false,"title":null}},"y":{"field":"v","type":"quantitative","axis":{"orient":"right","values":[-0.75,-0.25,0.25,0.75],"tickSize":-4,"labels":false,"title":null}}}},
{"data":{"name":"rza"},"transform":[{"filter":"datum.p==3 && datum.g=='b'"}],"mark":{"type":"area","interpolate":"monotone","color":"#64b3ad","clip":true},"encoding":{"x":{"field":"R","type":"quantitative","axis":null},"y":{"field":"hi","type":"quantitative","axis":null},"y2":{"field":"lo"}}},
{"data":{"name":"rza"},"transform":[{"filter":"datum.p==3 && datum.g=='h'"}],"mark":{"type":"area","color":"white","clip":true},"encoding":{"x":{"field":"R","type":"quantitative","axis":null},"y":{"field":"hi","type":"quantitative","axis":null},"y2":{"field":"lo"}}},
{"data":{"name":"eps"},"transform":[{"filter":"datum.p==3"}],"mark":{"type":"text","align":"left","baseline":"middle","font":"Liberation Sans","fontSize":13.5,"color":"black"},"encoding":{"x":{"datum":3.72,"type":"quantitative","axis":null},"y":{"datum":0.83,"type":"quantitative","axis":null},"text":{"field":"t"}}}
]},
{"width":202,"height":278,"resolve":{"axis":{"x":"independent","y":"independent"}},"layer":[
{"data":{"name":"ax"},"mark":{"type":"point","opacity":0,"clip":true},"encoding":{"x":{"field":"v","type":"quantitative","scale":{"domain":[3,13],"nice":false,"zero":false},"axis":{"orient":"bottom","values":[4,6,8,10,12],"tickSize":-7,"labels":false,"title":null}},"y":{"field":"v","type":"quantitative","scale":{"domain":[-1.1,1.1],"nice":false,"zero":false},"axis":{"orient":"left","values":[-1,-0.5,0,0.5,1],"tickSize":-7,"labels":false,"title":null}}}},
{"data":{"name":"ax"},"mark":{"type":"point","opacity":0,"clip":true},"encoding":{"x":{"field":"v","type":"quantitative","axis":{"orient":"top","values":[4,6,8,10,12],"tickSize":-7,"labels":false,"title":null}},"y":{"field":"v","type":"quantitative","axis":{"orient":"right","values":[-1,-0.5,0,0.5,1],"tickSize":-7,"labels":false,"title":null}}}},
{"data":{"name":"ax"},"mark":{"type":"point","opacity":0,"clip":true},"encoding":{"x":{"field":"v","type":"quantitative","axis":{"orient":"bottom","values":[5,7,9,11],"tickSize":-4,"labels":false,"title":null}},"y":{"field":"v","type":"quantitative","axis":{"orient":"left","values":[-0.75,-0.25,0.25,0.75],"tickSize":-4,"labels":false,"title":null}}}},
{"data":{"name":"ax"},"mark":{"type":"point","opacity":0,"clip":true},"encoding":{"x":{"field":"v","type":"quantitative","axis":{"orient":"top","values":[5,7,9,11],"tickSize":-4,"labels":false,"title":null}},"y":{"field":"v","type":"quantitative","axis":{"orient":"right","values":[-0.75,-0.25,0.25,0.75],"tickSize":-4,"labels":false,"title":null}}}},
{"data":{"name":"rza"},"transform":[{"filter":"datum.p==4 && datum.g=='b'"}],"mark":{"type":"area","color":"#8fd68f","clip":true},"encoding":{"x":{"field":"R","type":"quantitative","axis":null},"y":{"field":"hi","type":"quantitative","axis":null},"y2":{"field":"lo"}}},
{"data":{"name":"rza"},"transform":[{"filter":"datum.p==4 && datum.g=='w'"}],"mark":{"type":"area","color":"white","opacity":0.2,"clip":true},"encoding":{"x":{"field":"R","type":"quantitative","axis":null},"y":{"field":"hi","type":"quantitative","axis":null},"y2":{"field":"lo"}}},
{"data":{"name":"eps"},"transform":[{"filter":"datum.p==4"}],"mark":{"type":"text","align":"left","baseline":"middle","font":"Liberation Sans","fontSize":13.5,"color":"black"},"encoding":{"x":{"datum":3.72,"type":"quantitative","axis":null},"y":{"datum":0.83,"type":"quantitative","axis":null},"text":{"field":"t"}}}
]},
{"width":202,"height":278,"resolve":{"axis":{"x":"independent","y":"independent"}},"layer":[
{"data":{"name":"ax"},"mark":{"type":"point","opacity":0,"clip":true},"encoding":{"x":{"field":"v","type":"quantitative","scale":{"domain":[3,13],"nice":false,"zero":false},"axis":{"orient":"bottom","values":[4,6,8,10,12],"tickSize":-7,"labels":false,"title":null}},"y":{"field":"v","type":"quantitative","scale":{"domain":[-1.1,1.1],"nice":false,"zero":false},"axis":{"orient":"left","values":[-1,-0.5,0,0.5,1],"tickSize":-7,"labels":false,"title":null}}}},
{"data":{"name":"ax"},"mark":{"type":"point","opacity":0,"clip":true},"encoding":{"x":{"field":"v","type":"quantitative","axis":{"orient":"top","values":[4,6,8,10,12],"tickSize":-7,"labels":false,"title":null}},"y":{"field":"v","type":"quantitative","axis":{"orient":"right","values":[-1,-0.5,0,0.5,1],"tickSize":-7,"labels":false,"title":null}}}},
{"data":{"name":"ax"},"mark":{"type":"point","opacity":0,"clip":true},"encoding":{"x":{"field":"v","type":"quantitative","axis":{"orient":"bottom","values":[5,7,9,11],"tickSize":-4,"labels":false,"title":null}},"y":{"field":"v","type":"quantitative","axis":{"orient":"left","values":[-0.75,-0.25,0.25,0.75],"tickSize":-4,"labels":false,"title":null}}}},
{"data":{"name":"ax"},"mark":{"type":"point","opacity":0,"clip":true},"encoding":{"x":{"field":"v","type":"quantitative","axis":{"orient":"top","values":[5,7,9,11],"tickSize":-4,"labels":false,"title":null}},"y":{"field":"v","type":"quantitative","axis":{"orient":"right","values":[-0.75,-0.25,0.25,0.75],"tickSize":-4,"labels":false,"title":null}}}},
{"data":{"name":"rza"},"transform":[{"filter":"datum.p==5 && datum.g=='b'"}],"mark":{"type":"area","color":"#f8e66b","clip":true},"encoding":{"x":{"field":"R","type":"quantitative","axis":null},"y":{"field":"hi","type":"quantitative","axis":null},"y2":{"field":"lo"}}},
{"data":{"name":"rza"},"transform":[{"filter":"datum.p==5 && datum.g=='w'"}],"mark":{"type":"area","color":"white","opacity":0.25,"clip":true},"encoding":{"x":{"field":"R","type":"quantitative","axis":null},"y":{"field":"hi","type":"quantitative","axis":null},"y2":{"field":"lo"}}},
{"data":{"name":"rza"},"transform":[{"filter":"datum.p==5 && datum.g=='h'"}],"mark":{"type":"area","color":"white","clip":true},"encoding":{"x":{"field":"R","type":"quantitative","axis":null},"y":{"field":"hi","type":"quantitative","axis":null},"y2":{"field":"lo"}}},
{"data":{"name":"eps"},"transform":[{"filter":"datum.p==5"}],"mark":{"type":"text","align":"left","baseline":"middle","font":"Liberation Sans","fontSize":13.5,"color":"black"},"encoding":{"x":{"datum":3.72,"type":"quantitative","axis":null},"y":{"datum":0.83,"type":"quantitative","axis":null},"text":{"field":"t"}}}
]}
]},
{"bounds": "flush", "spacing": 0, "hconcat": [
{"width":202,"height":276,"resolve":{"axis":{"x":"independent","y":"independent"}},"layer":[
{"data":{"name":"ax"},"mark":{"type":"point","opacity":0,"clip":true},"encoding":{"x":{"field":"v","type":"quantitative","scale":{"domain":[-250,250],"nice":false,"zero":false},"axis":{"orient":"bottom","values":[-200,-100,0,100,200],"tickSize":-7,"title":"Lᵣ [km/skpc]","titleFont":"DejaVu Sans","titleFontWeight":"normal","titleFontSize":15,"titlePadding":8}},"y":{"field":"v","type":"quantitative","scale":{"domain":[-350,350],"nice":false,"zero":false},"axis":{"orient":"left","values":[-300,-200,-100,0,100,200,300],"tickSize":-7,"title":"Lᵩ [km/skpc]","titleFont":"DejaVu Sans","titleFontWeight":"normal","titleFontSize":15,"titlePadding":8}}}},
{"data":{"name":"ax"},"mark":{"type":"point","opacity":0,"clip":true},"encoding":{"x":{"field":"v","type":"quantitative","axis":{"orient":"top","values":[-200,-100,0,100,200],"tickSize":-7,"labels":false,"title":null}},"y":{"field":"v","type":"quantitative","axis":{"orient":"right","values":[-300,-200,-100,0,100,200,300],"tickSize":-7,"labels":false,"title":null}}}},
{"data":{"name":"ax"},"mark":{"type":"point","opacity":0,"clip":true},"encoding":{"x":{"field":"v","type":"quantitative","axis":{"orient":"bottom","values":[-150,-50,50,150],"tickSize":-4,"labels":false,"title":null}},"y":{"field":"v","type":"quantitative","axis":{"orient":"left","values":[-250,-150,-50,50,150,250],"tickSize":-4,"labels":false,"title":null}}}},
{"data":{"name":"ax"},"mark":{"type":"point","opacity":0,"clip":true},"encoding":{"x":{"field":"v","type":"quantitative","axis":{"orient":"top","values":[-150,-50,50,150],"tickSize":-4,"labels":false,"title":null}},"y":{"field":"v","type":"quantitative","axis":{"orient":"right","values":[-250,-150,-50,50,150,250],"tickSize":-4,"labels":false,"title":null}}}},
{"data":{"name":"lf"},"transform":[{"filter":"datum.p==1 && datum.g=='o'"}],"mark":{"type":"area","orient":"horizontal","interpolate":"monotone","color":"#6f3f85","clip":true},"encoding":{"y":{"field":"y","type":"quantitative","axis":null},"x":{"field":"l","type":"quantitative","axis":null},"x2":{"field":"r"}}},
{"data":{"name":"lf"},"transform":[{"filter":"datum.p==1 && datum.g=='i'"}],"mark":{"type":"area","orient":"horizontal","interpolate":"monotone","color":"white","clip":true},"encoding":{"y":{"field":"y","type":"quantitative","axis":null},"x":{"field":"l","type":"quantitative","axis":null},"x2":{"field":"r"}}},
{"data":{"name":"ld"},"transform":[{"filter":"datum.p==1"}],"mark":{"type":"line","interpolate":"cardinal-closed","strokeDash":[11,5],"strokeWidth":3.5,"color":"#4a155e","clip":true},"encoding":{"x":{"field":"x","type":"quantitative","axis":null},"y":{"field":"y","type":"quantitative","axis":null},"order":{"value":null}}},
{"data":{"name":"err"},"mark":{"type":"errorbar","ticks":true,"size":5,"thickness":1.8,"color":"black"},"encoding":{"x":{"field":"xl","type":"quantitative","axis":null},"x2":{"field":"xh"},"y":{"field":"y","type":"quantitative","axis":null}}},
{"data":{"name":"err"},"mark":{"type":"errorbar","ticks":true,"size":5,"thickness":1.8,"color":"black"},"encoding":{"y":{"field":"yl","type":"quantitative","axis":null},"y2":{"field":"yh"},"x":{"field":"x","type":"quantitative","axis":null}}}
]},
{"width":202,"height":276,"resolve":{"axis":{"x":"independent","y":"independent"}},"layer":[
{"data":{"name":"ax"},"mark":{"type":"point","opacity":0,"clip":true},"encoding":{"x":{"field":"v","type":"quantitative","scale":{"domain":[-250,250],"nice":false,"zero":false},"axis":{"orient":"bottom","values":[-200,-100,0,100,200],"tickSize":-7,"labels":false,"title":null}},"y":{"field":"v","type":"quantitative","scale":{"domain":[-350,350],"nice":false,"zero":false},"axis":{"orient":"left","values":[-300,-200,-100,0,100,200,300],"tickSize":-7,"labels":false,"title":null}}}},
{"data":{"name":"ax"},"mark":{"type":"point","opacity":0,"clip":true},"encoding":{"x":{"field":"v","type":"quantitative","axis":{"orient":"top","values":[-200,-100,0,100,200],"tickSize":-7,"labels":false,"title":null}},"y":{"field":"v","type":"quantitative","axis":{"orient":"right","values":[-300,-200,-100,0,100,200,300],"tickSize":-7,"labels":false,"title":null}}}},
{"data":{"name":"ax"},"mark":{"type":"point","opacity":0,"clip":true},"encoding":{"x":{"field":"v","type":"quantitative","axis":{"orient":"bottom","values":[-150,-50,50,150],"tickSize":-4,"labels":false,"title":null}},"y":{"field":"v","type":"quantitative","axis":{"orient":"left","values":[-250,-150,-50,50,150,250],"tickSize":-4,"labels":false,"title":null}}}},
{"data":{"name":"ax"},"mark":{"type":"point","opacity":0,"clip":true},"encoding":{"x":{"field":"v","type":"quantitative","axis":{"orient":"top","values":[-150,-50,50,150],"tickSize":-4,"labels":false,"title":null}},"y":{"field":"v","type":"quantitative","axis":{"orient":"right","values":[-250,-150,-50,50,150,250],"tickSize":-4,"labels":false,"title":null}}}},
{"data":{"name":"lf"},"transform":[{"filter":"datum.p==2 && datum.g=='o'"}],"mark":{"type":"area","orient":"horizontal","interpolate":"monotone","color":"#7787b3","clip":true},"encoding":{"y":{"field":"y","type":"quantitative","axis":null},"x":{"field":"l","type":"quantitative","axis":null},"x2":{"field":"r"}}},
{"data":{"name":"lf"},"transform":[{"filter":"datum.p==2 && datum.g=='i'"}],"mark":{"type":"area","orient":"horizontal","interpolate":"monotone","color":"white","clip":true},"encoding":{"y":{"field":"y","type":"quantitative","axis":null},"x":{"field":"l","type":"quantitative","axis":null},"x2":{"field":"r"}}},
{"data":{"name":"ld"},"transform":[{"filter":"datum.p==2"}],"mark":{"type":"line","interpolate":"cardinal-closed","strokeDash":[11,5],"strokeWidth":3.5,"color":"#4b5c96","clip":true},"encoding":{"x":{"field":"x","type":"quantitative","axis":null},"y":{"field":"y","type":"quantitative","axis":null},"order":{"value":null}}},
{"data":{"name":"err"},"mark":{"type":"errorbar","ticks":true,"size":5,"thickness":1.8,"color":"black"},"encoding":{"x":{"field":"xl","type":"quantitative","axis":null},"x2":{"field":"xh"},"y":{"field":"y","type":"quantitative","axis":null}}},
{"data":{"name":"err"},"mark":{"type":"errorbar","ticks":true,"size":5,"thickness":1.8,"color":"black"},"encoding":{"y":{"field":"yl","type":"quantitative","axis":null},"y2":{"field":"yh"},"x":{"field":"x","type":"quantitative","axis":null}}}
]},
{"width":202,"height":276,"resolve":{"axis":{"x":"independent","y":"independent"}},"layer":[
{"data":{"name":"ax"},"mark":{"type":"point","opacity":0,"clip":true},"encoding":{"x":{"field":"v","type":"quantitative","scale":{"domain":[-250,250],"nice":false,"zero":false},"axis":{"orient":"bottom","values":[-200,-100,0,100,200],"tickSize":-7,"labels":false,"title":null}},"y":{"field":"v","type":"quantitative","scale":{"domain":[-350,350],"nice":false,"zero":false},"axis":{"orient":"left","values":[-300,-200,-100,0,100,200,300],"tickSize":-7,"labels":false,"title":null}}}},
{"data":{"name":"ax"},"mark":{"type":"point","opacity":0,"clip":true},"encoding":{"x":{"field":"v","type":"quantitative","axis":{"orient":"top","values":[-200,-100,0,100,200],"tickSize":-7,"labels":false,"title":null}},"y":{"field":"v","type":"quantitative","axis":{"orient":"right","values":[-300,-200,-100,0,100,200,300],"tickSize":-7,"labels":false,"title":null}}}},
{"data":{"name":"ax"},"mark":{"type":"point","opacity":0,"clip":true},"encoding":{"x":{"field":"v","type":"quantitative","axis":{"orient":"bottom","values":[-150,-50,50,150],"tickSize":-4,"labels":false,"title":null}},"y":{"field":"v","type":"quantitative","axis":{"orient":"left","values":[-250,-150,-50,50,150,250],"tickSize":-4,"labels":false,"title":null}}}},
{"data":{"name":"ax"},"mark":{"type":"point","opacity":0,"clip":true},"encoding":{"x":{"field":"v","type":"quantitative","axis":{"orient":"top","values":[-150,-50,50,150],"tickSize":-4,"labels":false,"title":null}},"y":{"field":"v","type":"quantitative","axis":{"orient":"right","values":[-250,-150,-50,50,150,250],"tickSize":-4,"labels":false,"title":null}}}},
{"data":{"name":"lf"},"transform":[{"filter":"datum.p==3 && datum.g=='o'"}],"mark":{"type":"area","orient":"horizontal","interpolate":"monotone","color":"#5fb3ab","clip":true},"encoding":{"y":{"field":"y","type":"quantitative","axis":null},"x":{"field":"l","type":"quantitative","axis":null},"x2":{"field":"r"}}},
{"data":{"name":"lf"},"transform":[{"filter":"datum.p==3 && datum.g=='i'"}],"mark":{"type":"area","orient":"horizontal","interpolate":"monotone","color":"white","clip":true},"encoding":{"y":{"field":"y","type":"quantitative","axis":null},"x":{"field":"l","type":"quantitative","axis":null},"x2":{"field":"r"}}},
{"data":{"name":"ld"},"transform":[{"filter":"datum.p==3"}],"mark":{"type":"line","interpolate":"cardinal-closed","strokeDash":[11,5],"strokeWidth":3.5,"color":"#24998f","clip":true},"encoding":{"x":{"field":"x","type":"quantitative","axis":null},"y":{"field":"y","type":"quantitative","axis":null},"order":{"value":null}}},
{"data":{"name":"err"},"mark":{"type":"errorbar","ticks":true,"size":5,"thickness":1.8,"color":"black"},"encoding":{"x":{"field":"xl","type":"quantitative","axis":null},"x2":{"field":"xh"},"y":{"field":"y","type":"quantitative","axis":null}}},
{"data":{"name":"err"},"mark":{"type":"errorbar","ticks":true,"size":5,"thickness":1.8,"color":"black"},"encoding":{"y":{"field":"yl","type":"quantitative","axis":null},"y2":{"field":"yh"},"x":{"field":"x","type":"quantitative","axis":null}}}
]},
{"width":202,"height":276,"resolve":{"axis":{"x":"independent","y":"independent"}},"layer":[
{"data":{"name":"ax"},"mark":{"type":"point","opacity":0,"clip":true},"encoding":{"x":{"field":"v","type":"quantitative","scale":{"domain":[-250,250],"nice":false,"zero":false},"axis":{"orient":"bottom","values":[-200,-100,0,100,200],"tickSize":-7,"labels":false,"title":null}},"y":{"field":"v","type":"quantitative","scale":{"domain":[-350,350],"nice":false,"zero":false},"axis":{"orient":"left","values":[-300,-200,-100,0,100,200,300],"tickSize":-7,"labels":false,"title":null}}}},
{"data":{"name":"ax"},"mark":{"type":"point","opacity":0,"clip":true},"encoding":{"x":{"field":"v","type":"quantitative","axis":{"orient":"top","values":[-200,-100,0,100,200],"tickSize":-7,"labels":false,"title":null}},"y":{"field":"v","type":"quantitative","axis":{"orient":"right","values":[-300,-200,-100,0,100,200,300],"tickSize":-7,"labels":false,"title":null}}}},
{"data":{"name":"ax"},"mark":{"type":"point","opacity":0,"clip":true},"encoding":{"x":{"field":"v","type":"quantitative","axis":{"orient":"bottom","values":[-150,-50,50,150],"tickSize":-4,"labels":false,"title":null}},"y":{"field":"v","type":"quantitative","axis":{"orient":"left","values":[-250,-150,-50,50,150,250],"tickSize":-4,"labels":false,"title":null}}}},
{"data":{"name":"ax"},"mark":{"type":"point","opacity":0,"clip":true},"encoding":{"x":{"field":"v","type":"quantitative","axis":{"orient":"top","values":[-150,-50,50,150],"tickSize":-4,"labels":false,"title":null}},"y":{"field":"v","type":"quantitative","axis":{"orient":"right","values":[-250,-150,-50,50,150,250],"tickSize":-4,"labels":false,"title":null}}}},
{"data":{"name":"lf"},"transform":[{"filter":"datum.p==4 && datum.g=='o'"}],"mark":{"type":"area","orient":"horizontal","interpolate":"monotone","color":"#8ed98b","clip":true},"encoding":{"y":{"field":"y","type":"quantitative","axis":null},"x":{"field":"l","type":"quantitative","axis":null},"x2":{"field":"r"}}},
{"data":{"name":"lf"},"transform":[{"filter":"datum.p==4 && datum.g=='i'"}],"mark":{"type":"area","orient":"horizontal","interpolate":"monotone","color":"white","clip":true},"encoding":{"y":{"field":"y","type":"quantitative","axis":null},"x":{"field":"l","type":"quantitative","axis":null},"x2":{"field":"r"}}},
{"data":{"name":"ld"},"transform":[{"filter":"datum.p==4"}],"mark":{"type":"line","interpolate":"cardinal-closed","strokeDash":[11,5],"strokeWidth":3.5,"color":"#5ec35c","clip":true},"encoding":{"x":{"field":"x","type":"quantitative","axis":null},"y":{"field":"y","type":"quantitative","axis":null},"order":{"value":null}}},
{"data":{"name":"err"},"mark":{"type":"errorbar","ticks":true,"size":5,"thickness":1.8,"color":"black"},"encoding":{"x":{"field":"xl","type":"quantitative","axis":null},"x2":{"field":"xh"},"y":{"field":"y","type":"quantitative","axis":null}}},
{"data":{"name":"err"},"mark":{"type":"errorbar","ticks":true,"size":5,"thickness":1.8,"color":"black"},"encoding":{"y":{"field":"yl","type":"quantitative","axis":null},"y2":{"field":"yh"},"x":{"field":"x","type":"quantitative","axis":null}}}
]},
{"width":202,"height":276,"resolve":{"axis":{"x":"independent","y":"independent"}},"layer":[
{"data":{"name":"ax"},"mark":{"type":"point","opacity":0,"clip":true},"encoding":{"x":{"field":"v","type":"quantitative","scale":{"domain":[-250,250],"nice":false,"zero":false},"axis":{"orient":"bottom","values":[-200,-100,0,100,200],"tickSize":-7,"labels":false,"title":null}},"y":{"field":"v","type":"quantitative","scale":{"domain":[-350,350],"nice":false,"zero":false},"axis":{"orient":"left","values":[-300,-200,-100,0,100,200,300],"tickSize":-7,"labels":false,"title":null}}}},
{"data":{"name":"ax"},"mark":{"type":"point","opacity":0,"clip":true},"encoding":{"x":{"field":"v","type":"quantitative","axis":{"orient":"top","values":[-200,-100,0,100,200],"tickSize":-7,"labels":false,"title":null}},"y":{"field":"v","type":"quantitative","axis":{"orient":"right","values":[-300,-200,-100,0,100,200,300],"tickSize":-7,"labels":false,"title":null}}}},
{"data":{"name":"ax"},"mark":{"type":"point","opacity":0,"clip":true},"encoding":{"x":{"field":"v","type":"quantitative","axis":{"orient":"bottom","values":[-150,-50,50,150],"tickSize":-4,"labels":false,"title":null}},"y":{"field":"v","type":"quantitative","axis":{"orient":"left","values":[-250,-150,-50,50,150,250],"tickSize":-4,"labels":false,"title":null}}}},
{"data":{"name":"ax"},"mark":{"type":"point","opacity":0,"clip":true},"encoding":{"x":{"field":"v","type":"quantitative","axis":{"orient":"top","values":[-150,-50,50,150],"tickSize":-4,"labels":false,"title":null}},"y":{"field":"v","type":"quantitative","axis":{"orient":"right","values":[-250,-150,-50,50,150,250],"tickSize":-4,"labels":false,"title":null}}}},
{"data":{"name":"lf"},"transform":[{"filter":"datum.p==5 && datum.g=='o'"}],"mark":{"type":"area","orient":"horizontal","interpolate":"monotone","color":"#fbe86c","clip":true},"encoding":{"y":{"field":"y","type":"quantitative","axis":null},"x":{"field":"l","type":"quantitative","axis":null},"x2":{"field":"r"}}},
{"data":{"name":"lf"},"transform":[{"filter":"datum.p==5 && datum.g=='i'"}],"mark":{"type":"area","orient":"horizontal","interpolate":"monotone","color":"white","clip":true},"encoding":{"y":{"field":"y","type":"quantitative","axis":null},"x":{"field":"l","type":"quantitative","axis":null},"x2":{"field":"r"}}},
{"data":{"name":"ld"},"transform":[{"filter":"datum.p==5"}],"mark":{"type":"line","interpolate":"cardinal-closed","strokeDash":[11,5],"strokeWidth":3.5,"color":"#fde44b","clip":true},"encoding":{"x":{"field":"x","type":"quantitative","axis":null},"y":{"field":"y","type":"quantitative","axis":null},"order":{"value":null}}},
{"data":{"name":"err"},"mark":{"type":"errorbar","ticks":true,"size":5,"thickness":1.8,"color":"black"},"encoding":{"x":{"field":"xl","type":"quantitative","axis":null},"x2":{"field":"xh"},"y":{"field":"y","type":"quantitative","axis":null}}},
{"data":{"name":"err"},"mark":{"type":"errorbar","ticks":true,"size":5,"thickness":1.8,"color":"black"},"encoding":{"y":{"field":"yl","type":"quantitative","axis":null},"y2":{"field":"yh"},"x":{"field":"x","type":"quantitative","axis":null}}}
]}
]}
],
"config": {
"view": {"stroke": "#000000", "strokeWidth": 2},
"axis": {"domain": false, "grid": false, "ticks": true, "tickColor": "#000000", "tickWidth": 1.8, "labelFont": "Liberation Serif", "labelFontWeight": "bold", "labelFontSize": 15, "labelColor": "#000000", "labelFlush": false, "labelOverlap": false, "titleFont": "Liberation Serif", "titleFontWeight": "bold", "titleFontSize": 16, "titleColor": "#000000", "minExtent": 0},
"axisX": {"labelPadding": 15},
"axisY": {"labelPadding": 14}
}
}
